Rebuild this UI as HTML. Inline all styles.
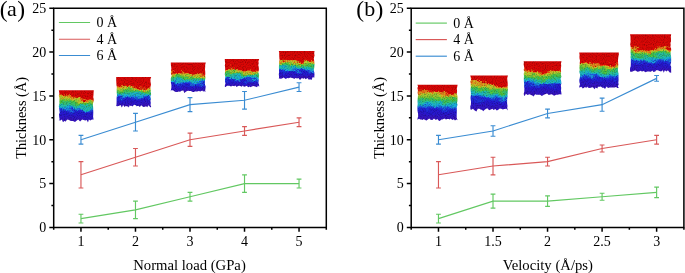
<!DOCTYPE html>
<html><head><meta charset="utf-8"><style>
html,body{margin:0;padding:0;background:#fff;width:685px;height:273px;overflow:hidden}
svg{display:block;will-change:transform}
.t{font-family:"Liberation Serif",serif;font-size:14px;fill:#000}
.a{font-family:"Liberation Serif",serif;font-size:14.7px;fill:#000}
.p{font-family:"Liberation Serif",serif;font-size:22px;fill:#000}
</style></head><body>
<svg width="685" height="273" viewBox="0 0 685 273">
<defs>
<filter id="sp" x="-5%" y="-5%" width="110%" height="110%" color-interpolation-filters="sRGB">
<feTurbulence type="fractalNoise" baseFrequency="0.7" numOctaves="2" seed="5" result="n"/>
<feDisplacementMap in="SourceGraphic" in2="n" scale="3" xChannelSelector="R" yChannelSelector="G" result="d"/>
<feTurbulence type="fractalNoise" baseFrequency="0.9" numOctaves="1" seed="9" result="m"/>
<feColorMatrix in="m" type="matrix" values="0.8 0 0 0 0.55  0.8 0 0 0 0.55  0.8 0 0 0 0.55  0 0 0 0 1" result="g"/>
<feBlend in="d" in2="g" mode="multiply" result="b"/>
<feComposite in="b" in2="d" operator="in"/>
</filter>
</defs>
<clipPath id="c0"><polygon points="58.8,90.3 93.8,90.3 93.6,92.6 93.5,94.9 93.2,97.3 93.8,98.9 93.6,101.7 92.9,103.5 93.0,105.7 93.2,107.9 93.2,109.7 93.3,112.5 93.2,115.1 93.1,116.7 93.5,119.1 93.8,119.6 92.1,119.6 90.2,120.5 88.9,119.5 88.0,122.4 86.7,120.1 85.2,120.5 83.7,120.1 82.1,119.5 80.1,121.4 78.2,119.6 76.5,120.8 75.0,122.0 73.0,121.0 71.8,120.9 70.0,120.7 69.2,119.9 67.3,119.4 65.3,121.7 64.5,120.8 63.0,122.3 61.8,119.5 60.5,120.4 59.0,120.1 58.8,120.7 59.6,119.2 59.2,116.9 59.0,114.4 59.7,112.4 59.3,110.1 59.2,108.6 58.8,106.2 59.4,103.8 59.4,102.2 59.4,100.0 59.4,98.0 58.8,95.4 59.4,93.8"/></clipPath>
<filter id="w0" x="50.8" y="82.6" width="51" height="46.6" filterUnits="userSpaceOnUse" color-interpolation-filters="sRGB"><feTurbulence type="fractalNoise" baseFrequency="0.12 0.25" numOctaves="3" seed="1" result="t"/><feDisplacementMap in="SourceGraphic" in2="t" scale="8" xChannelSelector="B" yChannelSelector="G"/></filter>
<linearGradient id="g0_0" gradientUnits="userSpaceOnUse" x1="0" y1="90.6" x2="0" y2="121.2"><stop offset="0.000" stop-color="#d80606"/><stop offset="0.132" stop-color="#dc0806"/><stop offset="0.177" stop-color="#e87818"/><stop offset="0.240" stop-color="#c8c828"/><stop offset="0.357" stop-color="#48c440"/><stop offset="0.481" stop-color="#20bcb0"/><stop offset="0.559" stop-color="#18a8e0"/><stop offset="0.637" stop-color="#1e3ae0"/><stop offset="0.732" stop-color="#2418d2"/><stop offset="1.000" stop-color="#3812bc"/></linearGradient>
<linearGradient id="g0_1" gradientUnits="userSpaceOnUse" x1="0" y1="90.6" x2="0" y2="121.2"><stop offset="0.000" stop-color="#d80606"/><stop offset="0.135" stop-color="#dc0806"/><stop offset="0.180" stop-color="#e87818"/><stop offset="0.243" stop-color="#c8c828"/><stop offset="0.359" stop-color="#48c440"/><stop offset="0.482" stop-color="#20bcb0"/><stop offset="0.560" stop-color="#18a8e0"/><stop offset="0.638" stop-color="#1e3ae0"/><stop offset="0.732" stop-color="#2418d2"/><stop offset="1.000" stop-color="#3812bc"/></linearGradient>
<linearGradient id="g0_2" gradientUnits="userSpaceOnUse" x1="0" y1="90.6" x2="0" y2="121.2"><stop offset="0.000" stop-color="#d80606"/><stop offset="0.138" stop-color="#dc0806"/><stop offset="0.183" stop-color="#e87818"/><stop offset="0.245" stop-color="#c8c828"/><stop offset="0.361" stop-color="#48c440"/><stop offset="0.483" stop-color="#20bcb0"/><stop offset="0.562" stop-color="#18a8e0"/><stop offset="0.639" stop-color="#1e3ae0"/><stop offset="0.733" stop-color="#2418d2"/><stop offset="1.000" stop-color="#3812bc"/></linearGradient>
<linearGradient id="g0_3" gradientUnits="userSpaceOnUse" x1="0" y1="90.6" x2="0" y2="121.2"><stop offset="0.000" stop-color="#d80606"/><stop offset="0.145" stop-color="#dc0806"/><stop offset="0.190" stop-color="#e87818"/><stop offset="0.252" stop-color="#c8c828"/><stop offset="0.366" stop-color="#48c440"/><stop offset="0.487" stop-color="#20bcb0"/><stop offset="0.564" stop-color="#18a8e0"/><stop offset="0.641" stop-color="#1e3ae0"/><stop offset="0.734" stop-color="#2418d2"/><stop offset="1.000" stop-color="#3812bc"/></linearGradient>
<linearGradient id="g0_4" gradientUnits="userSpaceOnUse" x1="0" y1="90.6" x2="0" y2="121.2"><stop offset="0.000" stop-color="#d80606"/><stop offset="0.167" stop-color="#dc0806"/><stop offset="0.210" stop-color="#e87818"/><stop offset="0.269" stop-color="#c8c828"/><stop offset="0.379" stop-color="#48c440"/><stop offset="0.497" stop-color="#20bcb0"/><stop offset="0.572" stop-color="#18a8e0"/><stop offset="0.647" stop-color="#1e3ae0"/><stop offset="0.738" stop-color="#2418d2"/><stop offset="1.000" stop-color="#3812bc"/></linearGradient>
<linearGradient id="g0_5" gradientUnits="userSpaceOnUse" x1="0" y1="90.6" x2="0" y2="121.2"><stop offset="0.000" stop-color="#d80606"/><stop offset="0.188" stop-color="#dc0806"/><stop offset="0.229" stop-color="#e87818"/><stop offset="0.287" stop-color="#c8c828"/><stop offset="0.393" stop-color="#48c440"/><stop offset="0.507" stop-color="#20bcb0"/><stop offset="0.580" stop-color="#18a8e0"/><stop offset="0.653" stop-color="#1e3ae0"/><stop offset="0.742" stop-color="#2418d2"/><stop offset="1.000" stop-color="#3812bc"/></linearGradient>
<linearGradient id="g0_6" gradientUnits="userSpaceOnUse" x1="0" y1="90.6" x2="0" y2="121.2"><stop offset="0.000" stop-color="#d80606"/><stop offset="0.210" stop-color="#dc0806"/><stop offset="0.249" stop-color="#e87818"/><stop offset="0.304" stop-color="#c8c828"/><stop offset="0.407" stop-color="#48c440"/><stop offset="0.517" stop-color="#20bcb0"/><stop offset="0.588" stop-color="#18a8e0"/><stop offset="0.659" stop-color="#1e3ae0"/><stop offset="0.746" stop-color="#2418d2"/><stop offset="1.000" stop-color="#3812bc"/></linearGradient>
<linearGradient id="g0_7" gradientUnits="userSpaceOnUse" x1="0" y1="90.6" x2="0" y2="121.2"><stop offset="0.000" stop-color="#d80606"/><stop offset="0.238" stop-color="#dc0806"/><stop offset="0.275" stop-color="#e87818"/><stop offset="0.327" stop-color="#c8c828"/><stop offset="0.424" stop-color="#48c440"/><stop offset="0.530" stop-color="#20bcb0"/><stop offset="0.599" stop-color="#18a8e0"/><stop offset="0.667" stop-color="#1e3ae0"/><stop offset="0.752" stop-color="#2418d2"/><stop offset="1.000" stop-color="#3812bc"/></linearGradient>
<linearGradient id="g0_8" gradientUnits="userSpaceOnUse" x1="0" y1="90.6" x2="0" y2="121.2"><stop offset="0.000" stop-color="#d80606"/><stop offset="0.265" stop-color="#dc0806"/><stop offset="0.300" stop-color="#e87818"/><stop offset="0.350" stop-color="#c8c828"/><stop offset="0.442" stop-color="#48c440"/><stop offset="0.543" stop-color="#20bcb0"/><stop offset="0.609" stop-color="#18a8e0"/><stop offset="0.675" stop-color="#1e3ae0"/><stop offset="0.757" stop-color="#2418d2"/><stop offset="1.000" stop-color="#3812bc"/></linearGradient>
<linearGradient id="g0_9" gradientUnits="userSpaceOnUse" x1="0" y1="90.6" x2="0" y2="121.2"><stop offset="0.000" stop-color="#d80606"/><stop offset="0.293" stop-color="#dc0806"/><stop offset="0.326" stop-color="#e87818"/><stop offset="0.372" stop-color="#c8c828"/><stop offset="0.460" stop-color="#48c440"/><stop offset="0.556" stop-color="#20bcb0"/><stop offset="0.619" stop-color="#18a8e0"/><stop offset="0.683" stop-color="#1e3ae0"/><stop offset="0.762" stop-color="#2418d2"/><stop offset="1.000" stop-color="#3812bc"/></linearGradient>
<linearGradient id="g0_10" gradientUnits="userSpaceOnUse" x1="0" y1="90.6" x2="0" y2="121.2"><stop offset="0.000" stop-color="#d80606"/><stop offset="0.286" stop-color="#dc0806"/><stop offset="0.320" stop-color="#e87818"/><stop offset="0.367" stop-color="#c8c828"/><stop offset="0.455" stop-color="#48c440"/><stop offset="0.553" stop-color="#20bcb0"/><stop offset="0.616" stop-color="#18a8e0"/><stop offset="0.681" stop-color="#1e3ae0"/><stop offset="0.761" stop-color="#2418d2"/><stop offset="1.000" stop-color="#3812bc"/></linearGradient>
<linearGradient id="g0_11" gradientUnits="userSpaceOnUse" x1="0" y1="90.6" x2="0" y2="121.2"><stop offset="0.000" stop-color="#d80606"/><stop offset="0.268" stop-color="#dc0806"/><stop offset="0.302" stop-color="#e87818"/><stop offset="0.352" stop-color="#c8c828"/><stop offset="0.444" stop-color="#48c440"/><stop offset="0.544" stop-color="#20bcb0"/><stop offset="0.610" stop-color="#18a8e0"/><stop offset="0.676" stop-color="#1e3ae0"/><stop offset="0.757" stop-color="#2418d2"/><stop offset="1.000" stop-color="#3812bc"/></linearGradient>
<linearGradient id="g0_12" gradientUnits="userSpaceOnUse" x1="0" y1="90.6" x2="0" y2="121.2"><stop offset="0.000" stop-color="#d80606"/><stop offset="0.249" stop-color="#dc0806"/><stop offset="0.285" stop-color="#e87818"/><stop offset="0.336" stop-color="#c8c828"/><stop offset="0.432" stop-color="#48c440"/><stop offset="0.536" stop-color="#20bcb0"/><stop offset="0.603" stop-color="#18a8e0"/><stop offset="0.671" stop-color="#1e3ae0"/><stop offset="0.754" stop-color="#2418d2"/><stop offset="1.000" stop-color="#3812bc"/></linearGradient>
<g clip-path="url(#c0)"><g filter="url(#sp)"><g filter="url(#w0)" shape-rendering="crispEdges"><rect x="50.80" y="82.6" width="11.69" height="46.6" fill="url(#g0_0)"/><rect x="61.49" y="82.6" width="3.69" height="46.6" fill="url(#g0_1)"/><rect x="64.18" y="82.6" width="3.69" height="46.6" fill="url(#g0_2)"/><rect x="66.88" y="82.6" width="3.69" height="46.6" fill="url(#g0_3)"/><rect x="69.57" y="82.6" width="3.69" height="46.6" fill="url(#g0_4)"/><rect x="72.26" y="82.6" width="3.69" height="46.6" fill="url(#g0_5)"/><rect x="74.95" y="82.6" width="3.69" height="46.6" fill="url(#g0_6)"/><rect x="77.65" y="82.6" width="3.69" height="46.6" fill="url(#g0_7)"/><rect x="80.34" y="82.6" width="3.69" height="46.6" fill="url(#g0_8)"/><rect x="83.03" y="82.6" width="3.69" height="46.6" fill="url(#g0_9)"/><rect x="85.72" y="82.6" width="3.69" height="46.6" fill="url(#g0_10)"/><rect x="88.42" y="82.6" width="3.69" height="46.6" fill="url(#g0_11)"/><rect x="91.11" y="82.6" width="10.69" height="46.6" fill="url(#g0_12)"/></g></g></g>
<clipPath id="c1"><polygon points="116.2,77.0 151.2,77.0 150.4,79.3 150.5,81.8 151.0,84.7 150.4,87.1 150.7,89.9 150.8,91.7 151.1,94.7 150.3,96.7 151.0,98.8 150.4,100.8 150.8,102.8 150.5,105.3 151.2,106.4 150.4,107.5 149.2,105.9 148.4,105.2 147.3,107.2 146.2,106.3 144.6,106.8 143.2,107.1 141.3,105.3 139.8,107.0 138.4,105.7 136.6,106.3 135.8,105.3 134.1,104.8 132.4,106.4 131.5,105.7 130.6,105.9 129.7,105.3 128.8,107.5 128.0,106.5 126.6,106.3 125.6,106.0 124.6,106.9 123.1,104.9 121.8,107.6 120.5,105.0 119.3,105.8 117.7,106.3 116.2,106.0 116.5,104.5 116.6,101.5 116.6,98.8 116.7,97.1 117.0,95.3 116.7,92.8 116.7,89.9 116.8,86.9 116.5,85.2 116.3,82.4 116.2,79.4"/></clipPath>
<filter id="w1" x="108.2" y="69.3" width="51" height="45.2" filterUnits="userSpaceOnUse" color-interpolation-filters="sRGB"><feTurbulence type="fractalNoise" baseFrequency="0.12 0.25" numOctaves="3" seed="4" result="t"/><feDisplacementMap in="SourceGraphic" in2="t" scale="8" xChannelSelector="B" yChannelSelector="G"/></filter>
<linearGradient id="g1_0" gradientUnits="userSpaceOnUse" x1="0" y1="77.3" x2="0" y2="106.5"><stop offset="0.000" stop-color="#d80606"/><stop offset="0.312" stop-color="#dc0806"/><stop offset="0.347" stop-color="#e87818"/><stop offset="0.395" stop-color="#c8c828"/><stop offset="0.484" stop-color="#48c440"/><stop offset="0.580" stop-color="#20bcb0"/><stop offset="0.642" stop-color="#18a8e0"/><stop offset="0.704" stop-color="#1e3ae0"/><stop offset="0.780" stop-color="#2418d2"/><stop offset="1.000" stop-color="#3812bc"/></linearGradient>
<linearGradient id="g1_1" gradientUnits="userSpaceOnUse" x1="0" y1="77.3" x2="0" y2="106.5"><stop offset="0.000" stop-color="#d80606"/><stop offset="0.297" stop-color="#dc0806"/><stop offset="0.332" stop-color="#e87818"/><stop offset="0.382" stop-color="#c8c828"/><stop offset="0.474" stop-color="#48c440"/><stop offset="0.573" stop-color="#20bcb0"/><stop offset="0.636" stop-color="#18a8e0"/><stop offset="0.700" stop-color="#1e3ae0"/><stop offset="0.777" stop-color="#2418d2"/><stop offset="1.000" stop-color="#3812bc"/></linearGradient>
<linearGradient id="g1_2" gradientUnits="userSpaceOnUse" x1="0" y1="77.3" x2="0" y2="106.5"><stop offset="0.000" stop-color="#d80606"/><stop offset="0.282" stop-color="#dc0806"/><stop offset="0.318" stop-color="#e87818"/><stop offset="0.370" stop-color="#c8c828"/><stop offset="0.464" stop-color="#48c440"/><stop offset="0.566" stop-color="#20bcb0"/><stop offset="0.631" stop-color="#18a8e0"/><stop offset="0.695" stop-color="#1e3ae0"/><stop offset="0.774" stop-color="#2418d2"/><stop offset="1.000" stop-color="#3812bc"/></linearGradient>
<linearGradient id="g1_3" gradientUnits="userSpaceOnUse" x1="0" y1="77.3" x2="0" y2="106.5"><stop offset="0.000" stop-color="#d80606"/><stop offset="0.272" stop-color="#dc0806"/><stop offset="0.310" stop-color="#e87818"/><stop offset="0.362" stop-color="#c8c828"/><stop offset="0.458" stop-color="#48c440"/><stop offset="0.561" stop-color="#20bcb0"/><stop offset="0.627" stop-color="#18a8e0"/><stop offset="0.693" stop-color="#1e3ae0"/><stop offset="0.772" stop-color="#2418d2"/><stop offset="1.000" stop-color="#3812bc"/></linearGradient>
<linearGradient id="g1_4" gradientUnits="userSpaceOnUse" x1="0" y1="77.3" x2="0" y2="106.5"><stop offset="0.000" stop-color="#d80606"/><stop offset="0.282" stop-color="#dc0806"/><stop offset="0.318" stop-color="#e87818"/><stop offset="0.370" stop-color="#c8c828"/><stop offset="0.464" stop-color="#48c440"/><stop offset="0.566" stop-color="#20bcb0"/><stop offset="0.631" stop-color="#18a8e0"/><stop offset="0.695" stop-color="#1e3ae0"/><stop offset="0.774" stop-color="#2418d2"/><stop offset="1.000" stop-color="#3812bc"/></linearGradient>
<linearGradient id="g1_5" gradientUnits="userSpaceOnUse" x1="0" y1="77.3" x2="0" y2="106.5"><stop offset="0.000" stop-color="#d80606"/><stop offset="0.291" stop-color="#dc0806"/><stop offset="0.327" stop-color="#e87818"/><stop offset="0.377" stop-color="#c8c828"/><stop offset="0.470" stop-color="#48c440"/><stop offset="0.570" stop-color="#20bcb0"/><stop offset="0.634" stop-color="#18a8e0"/><stop offset="0.698" stop-color="#1e3ae0"/><stop offset="0.776" stop-color="#2418d2"/><stop offset="1.000" stop-color="#3812bc"/></linearGradient>
<linearGradient id="g1_6" gradientUnits="userSpaceOnUse" x1="0" y1="77.3" x2="0" y2="106.5"><stop offset="0.000" stop-color="#d80606"/><stop offset="0.300" stop-color="#dc0806"/><stop offset="0.335" stop-color="#e87818"/><stop offset="0.385" stop-color="#c8c828"/><stop offset="0.476" stop-color="#48c440"/><stop offset="0.574" stop-color="#20bcb0"/><stop offset="0.637" stop-color="#18a8e0"/><stop offset="0.700" stop-color="#1e3ae0"/><stop offset="0.777" stop-color="#2418d2"/><stop offset="1.000" stop-color="#3812bc"/></linearGradient>
<linearGradient id="g1_7" gradientUnits="userSpaceOnUse" x1="0" y1="77.3" x2="0" y2="106.5"><stop offset="0.000" stop-color="#d80606"/><stop offset="0.312" stop-color="#dc0806"/><stop offset="0.347" stop-color="#e87818"/><stop offset="0.395" stop-color="#c8c828"/><stop offset="0.484" stop-color="#48c440"/><stop offset="0.580" stop-color="#20bcb0"/><stop offset="0.642" stop-color="#18a8e0"/><stop offset="0.704" stop-color="#1e3ae0"/><stop offset="0.780" stop-color="#2418d2"/><stop offset="1.000" stop-color="#3812bc"/></linearGradient>
<linearGradient id="g1_8" gradientUnits="userSpaceOnUse" x1="0" y1="77.3" x2="0" y2="106.5"><stop offset="0.000" stop-color="#d80606"/><stop offset="0.325" stop-color="#dc0806"/><stop offset="0.358" stop-color="#e87818"/><stop offset="0.405" stop-color="#c8c828"/><stop offset="0.492" stop-color="#48c440"/><stop offset="0.586" stop-color="#20bcb0"/><stop offset="0.647" stop-color="#18a8e0"/><stop offset="0.707" stop-color="#1e3ae0"/><stop offset="0.782" stop-color="#2418d2"/><stop offset="1.000" stop-color="#3812bc"/></linearGradient>
<linearGradient id="g1_9" gradientUnits="userSpaceOnUse" x1="0" y1="77.3" x2="0" y2="106.5"><stop offset="0.000" stop-color="#d80606"/><stop offset="0.337" stop-color="#dc0806"/><stop offset="0.369" stop-color="#e87818"/><stop offset="0.415" stop-color="#c8c828"/><stop offset="0.500" stop-color="#48c440"/><stop offset="0.592" stop-color="#20bcb0"/><stop offset="0.651" stop-color="#18a8e0"/><stop offset="0.711" stop-color="#1e3ae0"/><stop offset="0.784" stop-color="#2418d2"/><stop offset="1.000" stop-color="#3812bc"/></linearGradient>
<linearGradient id="g1_10" gradientUnits="userSpaceOnUse" x1="0" y1="77.3" x2="0" y2="106.5"><stop offset="0.000" stop-color="#d80606"/><stop offset="0.335" stop-color="#dc0806"/><stop offset="0.368" stop-color="#e87818"/><stop offset="0.414" stop-color="#c8c828"/><stop offset="0.499" stop-color="#48c440"/><stop offset="0.591" stop-color="#20bcb0"/><stop offset="0.651" stop-color="#18a8e0"/><stop offset="0.710" stop-color="#1e3ae0"/><stop offset="0.784" stop-color="#2418d2"/><stop offset="1.000" stop-color="#3812bc"/></linearGradient>
<linearGradient id="g1_11" gradientUnits="userSpaceOnUse" x1="0" y1="77.3" x2="0" y2="106.5"><stop offset="0.000" stop-color="#d80606"/><stop offset="0.329" stop-color="#dc0806"/><stop offset="0.362" stop-color="#e87818"/><stop offset="0.409" stop-color="#c8c828"/><stop offset="0.495" stop-color="#48c440"/><stop offset="0.588" stop-color="#20bcb0"/><stop offset="0.648" stop-color="#18a8e0"/><stop offset="0.709" stop-color="#1e3ae0"/><stop offset="0.783" stop-color="#2418d2"/><stop offset="1.000" stop-color="#3812bc"/></linearGradient>
<linearGradient id="g1_12" gradientUnits="userSpaceOnUse" x1="0" y1="77.3" x2="0" y2="106.5"><stop offset="0.000" stop-color="#d80606"/><stop offset="0.323" stop-color="#dc0806"/><stop offset="0.357" stop-color="#e87818"/><stop offset="0.403" stop-color="#c8c828"/><stop offset="0.491" stop-color="#48c440"/><stop offset="0.585" stop-color="#20bcb0"/><stop offset="0.646" stop-color="#18a8e0"/><stop offset="0.707" stop-color="#1e3ae0"/><stop offset="0.782" stop-color="#2418d2"/><stop offset="1.000" stop-color="#3812bc"/></linearGradient>
<g clip-path="url(#c1)"><g filter="url(#sp)"><g filter="url(#w1)" shape-rendering="crispEdges"><rect x="108.20" y="69.3" width="11.69" height="45.2" fill="url(#g1_0)"/><rect x="118.89" y="69.3" width="3.69" height="45.2" fill="url(#g1_1)"/><rect x="121.58" y="69.3" width="3.69" height="45.2" fill="url(#g1_2)"/><rect x="124.28" y="69.3" width="3.69" height="45.2" fill="url(#g1_3)"/><rect x="126.97" y="69.3" width="3.69" height="45.2" fill="url(#g1_4)"/><rect x="129.66" y="69.3" width="3.69" height="45.2" fill="url(#g1_5)"/><rect x="132.35" y="69.3" width="3.69" height="45.2" fill="url(#g1_6)"/><rect x="135.05" y="69.3" width="3.69" height="45.2" fill="url(#g1_7)"/><rect x="137.74" y="69.3" width="3.69" height="45.2" fill="url(#g1_8)"/><rect x="140.43" y="69.3" width="3.69" height="45.2" fill="url(#g1_9)"/><rect x="143.12" y="69.3" width="3.69" height="45.2" fill="url(#g1_10)"/><rect x="145.82" y="69.3" width="3.69" height="45.2" fill="url(#g1_11)"/><rect x="148.51" y="69.3" width="10.69" height="45.2" fill="url(#g1_12)"/></g></g></g>
<clipPath id="c2"><polygon points="170.8,62.5 205.8,62.5 205.2,64.8 205.2,66.4 205.0,69.2 205.2,71.5 205.3,73.5 205.2,75.2 205.5,77.6 205.1,79.7 204.9,81.8 205.0,84.8 205.7,86.4 205.5,88.3 205.1,90.9 205.8,90.8 205.0,92.0 204.1,90.8 203.3,91.8 202.3,90.5 200.4,91.6 198.8,91.1 197.2,91.5 195.8,91.6 195.0,91.2 194.2,92.0 193.0,91.9 192.1,91.7 191.0,91.0 189.5,91.0 188.4,90.7 187.0,91.1 185.5,91.9 184.3,92.9 183.4,90.5 181.5,90.7 180.1,91.7 178.5,91.6 177.3,92.0 175.9,91.9 174.6,91.4 173.0,90.3 171.2,90.3 170.8,91.5 170.9,90.0 171.4,87.8 171.4,84.9 170.9,82.5 170.8,80.0 170.8,78.3 171.6,75.7 170.9,73.3 171.0,70.7 171.4,68.2 170.9,65.2"/></clipPath>
<filter id="w2" x="162.8" y="54.8" width="51" height="45.2" filterUnits="userSpaceOnUse" color-interpolation-filters="sRGB"><feTurbulence type="fractalNoise" baseFrequency="0.12 0.25" numOctaves="3" seed="7" result="t"/><feDisplacementMap in="SourceGraphic" in2="t" scale="8" xChannelSelector="B" yChannelSelector="G"/></filter>
<linearGradient id="g2_0" gradientUnits="userSpaceOnUse" x1="0" y1="62.8" x2="0" y2="92.0"><stop offset="0.000" stop-color="#d80606"/><stop offset="0.317" stop-color="#dc0806"/><stop offset="0.352" stop-color="#e87818"/><stop offset="0.401" stop-color="#c8c828"/><stop offset="0.491" stop-color="#48c440"/><stop offset="0.587" stop-color="#20bcb0"/><stop offset="0.649" stop-color="#18a8e0"/><stop offset="0.710" stop-color="#1e3ae0"/><stop offset="0.785" stop-color="#2418d2"/><stop offset="1.000" stop-color="#3812bc"/></linearGradient>
<linearGradient id="g2_1" gradientUnits="userSpaceOnUse" x1="0" y1="62.8" x2="0" y2="92.0"><stop offset="0.000" stop-color="#d80606"/><stop offset="0.311" stop-color="#dc0806"/><stop offset="0.346" stop-color="#e87818"/><stop offset="0.396" stop-color="#c8c828"/><stop offset="0.487" stop-color="#48c440"/><stop offset="0.584" stop-color="#20bcb0"/><stop offset="0.647" stop-color="#18a8e0"/><stop offset="0.709" stop-color="#1e3ae0"/><stop offset="0.784" stop-color="#2418d2"/><stop offset="1.000" stop-color="#3812bc"/></linearGradient>
<linearGradient id="g2_2" gradientUnits="userSpaceOnUse" x1="0" y1="62.8" x2="0" y2="92.0"><stop offset="0.000" stop-color="#d80606"/><stop offset="0.305" stop-color="#dc0806"/><stop offset="0.341" stop-color="#e87818"/><stop offset="0.391" stop-color="#c8c828"/><stop offset="0.483" stop-color="#48c440"/><stop offset="0.581" stop-color="#20bcb0"/><stop offset="0.644" stop-color="#18a8e0"/><stop offset="0.707" stop-color="#1e3ae0"/><stop offset="0.783" stop-color="#2418d2"/><stop offset="1.000" stop-color="#3812bc"/></linearGradient>
<linearGradient id="g2_3" gradientUnits="userSpaceOnUse" x1="0" y1="62.8" x2="0" y2="92.0"><stop offset="0.000" stop-color="#d80606"/><stop offset="0.305" stop-color="#dc0806"/><stop offset="0.341" stop-color="#e87818"/><stop offset="0.391" stop-color="#c8c828"/><stop offset="0.483" stop-color="#48c440"/><stop offset="0.582" stop-color="#20bcb0"/><stop offset="0.645" stop-color="#18a8e0"/><stop offset="0.707" stop-color="#1e3ae0"/><stop offset="0.783" stop-color="#2418d2"/><stop offset="1.000" stop-color="#3812bc"/></linearGradient>
<linearGradient id="g2_4" gradientUnits="userSpaceOnUse" x1="0" y1="62.8" x2="0" y2="92.0"><stop offset="0.000" stop-color="#d80606"/><stop offset="0.327" stop-color="#dc0806"/><stop offset="0.361" stop-color="#e87818"/><stop offset="0.409" stop-color="#c8c828"/><stop offset="0.497" stop-color="#48c440"/><stop offset="0.592" stop-color="#20bcb0"/><stop offset="0.653" stop-color="#18a8e0"/><stop offset="0.713" stop-color="#1e3ae0"/><stop offset="0.787" stop-color="#2418d2"/><stop offset="1.000" stop-color="#3812bc"/></linearGradient>
<linearGradient id="g2_5" gradientUnits="userSpaceOnUse" x1="0" y1="62.8" x2="0" y2="92.0"><stop offset="0.000" stop-color="#d80606"/><stop offset="0.348" stop-color="#dc0806"/><stop offset="0.381" stop-color="#e87818"/><stop offset="0.426" stop-color="#c8c828"/><stop offset="0.511" stop-color="#48c440"/><stop offset="0.602" stop-color="#20bcb0"/><stop offset="0.661" stop-color="#18a8e0"/><stop offset="0.719" stop-color="#1e3ae0"/><stop offset="0.791" stop-color="#2418d2"/><stop offset="1.000" stop-color="#3812bc"/></linearGradient>
<linearGradient id="g2_6" gradientUnits="userSpaceOnUse" x1="0" y1="62.8" x2="0" y2="92.0"><stop offset="0.000" stop-color="#d80606"/><stop offset="0.370" stop-color="#dc0806"/><stop offset="0.401" stop-color="#e87818"/><stop offset="0.444" stop-color="#c8c828"/><stop offset="0.525" stop-color="#48c440"/><stop offset="0.612" stop-color="#20bcb0"/><stop offset="0.669" stop-color="#18a8e0"/><stop offset="0.725" stop-color="#1e3ae0"/><stop offset="0.795" stop-color="#2418d2"/><stop offset="1.000" stop-color="#3812bc"/></linearGradient>
<linearGradient id="g2_7" gradientUnits="userSpaceOnUse" x1="0" y1="62.8" x2="0" y2="92.0"><stop offset="0.000" stop-color="#d80606"/><stop offset="0.376" stop-color="#dc0806"/><stop offset="0.406" stop-color="#e87818"/><stop offset="0.449" stop-color="#c8c828"/><stop offset="0.528" stop-color="#48c440"/><stop offset="0.615" stop-color="#20bcb0"/><stop offset="0.671" stop-color="#18a8e0"/><stop offset="0.727" stop-color="#1e3ae0"/><stop offset="0.796" stop-color="#2418d2"/><stop offset="1.000" stop-color="#3812bc"/></linearGradient>
<linearGradient id="g2_8" gradientUnits="userSpaceOnUse" x1="0" y1="62.8" x2="0" y2="92.0"><stop offset="0.000" stop-color="#d80606"/><stop offset="0.382" stop-color="#dc0806"/><stop offset="0.412" stop-color="#e87818"/><stop offset="0.454" stop-color="#c8c828"/><stop offset="0.532" stop-color="#48c440"/><stop offset="0.618" stop-color="#20bcb0"/><stop offset="0.673" stop-color="#18a8e0"/><stop offset="0.729" stop-color="#1e3ae0"/><stop offset="0.797" stop-color="#2418d2"/><stop offset="1.000" stop-color="#3812bc"/></linearGradient>
<linearGradient id="g2_9" gradientUnits="userSpaceOnUse" x1="0" y1="62.8" x2="0" y2="92.0"><stop offset="0.000" stop-color="#d80606"/><stop offset="0.388" stop-color="#dc0806"/><stop offset="0.418" stop-color="#e87818"/><stop offset="0.459" stop-color="#c8c828"/><stop offset="0.536" stop-color="#48c440"/><stop offset="0.621" stop-color="#20bcb0"/><stop offset="0.675" stop-color="#18a8e0"/><stop offset="0.730" stop-color="#1e3ae0"/><stop offset="0.799" stop-color="#2418d2"/><stop offset="1.000" stop-color="#3812bc"/></linearGradient>
<linearGradient id="g2_10" gradientUnits="userSpaceOnUse" x1="0" y1="62.8" x2="0" y2="92.0"><stop offset="0.000" stop-color="#d80606"/><stop offset="0.378" stop-color="#dc0806"/><stop offset="0.409" stop-color="#e87818"/><stop offset="0.451" stop-color="#c8c828"/><stop offset="0.530" stop-color="#48c440"/><stop offset="0.616" stop-color="#20bcb0"/><stop offset="0.672" stop-color="#18a8e0"/><stop offset="0.728" stop-color="#1e3ae0"/><stop offset="0.797" stop-color="#2418d2"/><stop offset="1.000" stop-color="#3812bc"/></linearGradient>
<linearGradient id="g2_11" gradientUnits="userSpaceOnUse" x1="0" y1="62.8" x2="0" y2="92.0"><stop offset="0.000" stop-color="#d80606"/><stop offset="0.363" stop-color="#dc0806"/><stop offset="0.394" stop-color="#e87818"/><stop offset="0.438" stop-color="#c8c828"/><stop offset="0.520" stop-color="#48c440"/><stop offset="0.609" stop-color="#20bcb0"/><stop offset="0.666" stop-color="#18a8e0"/><stop offset="0.723" stop-color="#1e3ae0"/><stop offset="0.794" stop-color="#2418d2"/><stop offset="1.000" stop-color="#3812bc"/></linearGradient>
<linearGradient id="g2_12" gradientUnits="userSpaceOnUse" x1="0" y1="62.8" x2="0" y2="92.0"><stop offset="0.000" stop-color="#d80606"/><stop offset="0.348" stop-color="#dc0806"/><stop offset="0.380" stop-color="#e87818"/><stop offset="0.426" stop-color="#c8c828"/><stop offset="0.510" stop-color="#48c440"/><stop offset="0.602" stop-color="#20bcb0"/><stop offset="0.660" stop-color="#18a8e0"/><stop offset="0.719" stop-color="#1e3ae0"/><stop offset="0.791" stop-color="#2418d2"/><stop offset="1.000" stop-color="#3812bc"/></linearGradient>
<g clip-path="url(#c2)"><g filter="url(#sp)"><g filter="url(#w2)" shape-rendering="crispEdges"><rect x="162.80" y="54.8" width="11.69" height="45.2" fill="url(#g2_0)"/><rect x="173.49" y="54.8" width="3.69" height="45.2" fill="url(#g2_1)"/><rect x="176.18" y="54.8" width="3.69" height="45.2" fill="url(#g2_2)"/><rect x="178.88" y="54.8" width="3.69" height="45.2" fill="url(#g2_3)"/><rect x="181.57" y="54.8" width="3.69" height="45.2" fill="url(#g2_4)"/><rect x="184.26" y="54.8" width="3.69" height="45.2" fill="url(#g2_5)"/><rect x="186.95" y="54.8" width="3.69" height="45.2" fill="url(#g2_6)"/><rect x="189.65" y="54.8" width="3.69" height="45.2" fill="url(#g2_7)"/><rect x="192.34" y="54.8" width="3.69" height="45.2" fill="url(#g2_8)"/><rect x="195.03" y="54.8" width="3.69" height="45.2" fill="url(#g2_9)"/><rect x="197.72" y="54.8" width="3.69" height="45.2" fill="url(#g2_10)"/><rect x="200.42" y="54.8" width="3.69" height="45.2" fill="url(#g2_11)"/><rect x="203.11" y="54.8" width="10.69" height="45.2" fill="url(#g2_12)"/></g></g></g>
<clipPath id="c3"><polygon points="224.8,59.1 259.2,59.1 258.4,61.4 258.7,63.1 258.3,65.3 258.8,67.4 258.9,69.8 258.4,72.6 259.1,75.2 258.7,78.2 258.7,80.6 258.4,82.9 259.1,84.8 259.2,86.7 257.9,85.6 257.1,87.2 255.2,86.6 253.2,85.9 251.7,86.6 250.9,87.2 249.6,86.4 248.4,87.2 246.5,85.7 245.3,86.4 243.8,86.8 242.9,85.5 241.6,86.7 239.9,85.8 238.0,86.1 236.7,87.0 235.3,85.6 234.4,86.2 232.6,85.7 231.0,86.4 229.3,85.8 227.3,85.7 226.4,86.2 225.5,86.9 224.8,86.7 224.9,85.2 225.5,83.4 225.0,81.4 225.0,78.7 225.3,77.1 224.8,74.5 225.0,72.0 225.2,69.2 225.1,67.2 224.8,65.6 225.2,63.4 224.9,61.6"/></clipPath>
<filter id="w3" x="216.8" y="51.4" width="50.4" height="43.8" filterUnits="userSpaceOnUse" color-interpolation-filters="sRGB"><feTurbulence type="fractalNoise" baseFrequency="0.12 0.25" numOctaves="3" seed="10" result="t"/><feDisplacementMap in="SourceGraphic" in2="t" scale="8" xChannelSelector="B" yChannelSelector="G"/></filter>
<linearGradient id="g3_0" gradientUnits="userSpaceOnUse" x1="0" y1="59.4" x2="0" y2="87.2"><stop offset="0.000" stop-color="#d80606"/><stop offset="0.368" stop-color="#dc0806"/><stop offset="0.399" stop-color="#e87818"/><stop offset="0.443" stop-color="#c8c828"/><stop offset="0.526" stop-color="#48c440"/><stop offset="0.614" stop-color="#20bcb0"/><stop offset="0.671" stop-color="#18a8e0"/><stop offset="0.728" stop-color="#1e3ae0"/><stop offset="0.797" stop-color="#2418d2"/><stop offset="1.000" stop-color="#3812bc"/></linearGradient>
<linearGradient id="g3_1" gradientUnits="userSpaceOnUse" x1="0" y1="59.4" x2="0" y2="87.2"><stop offset="0.000" stop-color="#d80606"/><stop offset="0.343" stop-color="#dc0806"/><stop offset="0.377" stop-color="#e87818"/><stop offset="0.423" stop-color="#c8c828"/><stop offset="0.510" stop-color="#48c440"/><stop offset="0.603" stop-color="#20bcb0"/><stop offset="0.662" stop-color="#18a8e0"/><stop offset="0.721" stop-color="#1e3ae0"/><stop offset="0.793" stop-color="#2418d2"/><stop offset="1.000" stop-color="#3812bc"/></linearGradient>
<linearGradient id="g3_2" gradientUnits="userSpaceOnUse" x1="0" y1="59.4" x2="0" y2="87.2"><stop offset="0.000" stop-color="#d80606"/><stop offset="0.318" stop-color="#dc0806"/><stop offset="0.354" stop-color="#e87818"/><stop offset="0.403" stop-color="#c8c828"/><stop offset="0.494" stop-color="#48c440"/><stop offset="0.591" stop-color="#20bcb0"/><stop offset="0.653" stop-color="#18a8e0"/><stop offset="0.714" stop-color="#1e3ae0"/><stop offset="0.788" stop-color="#2418d2"/><stop offset="1.000" stop-color="#3812bc"/></linearGradient>
<linearGradient id="g3_3" gradientUnits="userSpaceOnUse" x1="0" y1="59.4" x2="0" y2="87.2"><stop offset="0.000" stop-color="#d80606"/><stop offset="0.305" stop-color="#dc0806"/><stop offset="0.342" stop-color="#e87818"/><stop offset="0.393" stop-color="#c8c828"/><stop offset="0.486" stop-color="#48c440"/><stop offset="0.585" stop-color="#20bcb0"/><stop offset="0.648" stop-color="#18a8e0"/><stop offset="0.710" stop-color="#1e3ae0"/><stop offset="0.786" stop-color="#2418d2"/><stop offset="1.000" stop-color="#3812bc"/></linearGradient>
<linearGradient id="g3_4" gradientUnits="userSpaceOnUse" x1="0" y1="59.4" x2="0" y2="87.2"><stop offset="0.000" stop-color="#d80606"/><stop offset="0.327" stop-color="#dc0806"/><stop offset="0.362" stop-color="#e87818"/><stop offset="0.410" stop-color="#c8c828"/><stop offset="0.500" stop-color="#48c440"/><stop offset="0.595" stop-color="#20bcb0"/><stop offset="0.656" stop-color="#18a8e0"/><stop offset="0.716" stop-color="#1e3ae0"/><stop offset="0.790" stop-color="#2418d2"/><stop offset="1.000" stop-color="#3812bc"/></linearGradient>
<linearGradient id="g3_5" gradientUnits="userSpaceOnUse" x1="0" y1="59.4" x2="0" y2="87.2"><stop offset="0.000" stop-color="#d80606"/><stop offset="0.348" stop-color="#dc0806"/><stop offset="0.382" stop-color="#e87818"/><stop offset="0.428" stop-color="#c8c828"/><stop offset="0.513" stop-color="#48c440"/><stop offset="0.605" stop-color="#20bcb0"/><stop offset="0.664" stop-color="#18a8e0"/><stop offset="0.722" stop-color="#1e3ae0"/><stop offset="0.794" stop-color="#2418d2"/><stop offset="1.000" stop-color="#3812bc"/></linearGradient>
<linearGradient id="g3_6" gradientUnits="userSpaceOnUse" x1="0" y1="59.4" x2="0" y2="87.2"><stop offset="0.000" stop-color="#d80606"/><stop offset="0.370" stop-color="#dc0806"/><stop offset="0.401" stop-color="#e87818"/><stop offset="0.445" stop-color="#c8c828"/><stop offset="0.527" stop-color="#48c440"/><stop offset="0.615" stop-color="#20bcb0"/><stop offset="0.672" stop-color="#18a8e0"/><stop offset="0.729" stop-color="#1e3ae0"/><stop offset="0.798" stop-color="#2418d2"/><stop offset="1.000" stop-color="#3812bc"/></linearGradient>
<linearGradient id="g3_7" gradientUnits="userSpaceOnUse" x1="0" y1="59.4" x2="0" y2="87.2"><stop offset="0.000" stop-color="#d80606"/><stop offset="0.373" stop-color="#dc0806"/><stop offset="0.404" stop-color="#e87818"/><stop offset="0.448" stop-color="#c8c828"/><stop offset="0.529" stop-color="#48c440"/><stop offset="0.617" stop-color="#20bcb0"/><stop offset="0.673" stop-color="#18a8e0"/><stop offset="0.729" stop-color="#1e3ae0"/><stop offset="0.798" stop-color="#2418d2"/><stop offset="1.000" stop-color="#3812bc"/></linearGradient>
<linearGradient id="g3_8" gradientUnits="userSpaceOnUse" x1="0" y1="59.4" x2="0" y2="87.2"><stop offset="0.000" stop-color="#d80606"/><stop offset="0.376" stop-color="#dc0806"/><stop offset="0.407" stop-color="#e87818"/><stop offset="0.450" stop-color="#c8c828"/><stop offset="0.531" stop-color="#48c440"/><stop offset="0.618" stop-color="#20bcb0"/><stop offset="0.674" stop-color="#18a8e0"/><stop offset="0.730" stop-color="#1e3ae0"/><stop offset="0.799" stop-color="#2418d2"/><stop offset="1.000" stop-color="#3812bc"/></linearGradient>
<linearGradient id="g3_9" gradientUnits="userSpaceOnUse" x1="0" y1="59.4" x2="0" y2="87.2"><stop offset="0.000" stop-color="#d80606"/><stop offset="0.379" stop-color="#dc0806"/><stop offset="0.410" stop-color="#e87818"/><stop offset="0.453" stop-color="#c8c828"/><stop offset="0.533" stop-color="#48c440"/><stop offset="0.619" stop-color="#20bcb0"/><stop offset="0.675" stop-color="#18a8e0"/><stop offset="0.731" stop-color="#1e3ae0"/><stop offset="0.800" stop-color="#2418d2"/><stop offset="1.000" stop-color="#3812bc"/></linearGradient>
<linearGradient id="g3_10" gradientUnits="userSpaceOnUse" x1="0" y1="59.4" x2="0" y2="87.2"><stop offset="0.000" stop-color="#d80606"/><stop offset="0.385" stop-color="#dc0806"/><stop offset="0.415" stop-color="#e87818"/><stop offset="0.457" stop-color="#c8c828"/><stop offset="0.536" stop-color="#48c440"/><stop offset="0.622" stop-color="#20bcb0"/><stop offset="0.677" stop-color="#18a8e0"/><stop offset="0.733" stop-color="#1e3ae0"/><stop offset="0.801" stop-color="#2418d2"/><stop offset="1.000" stop-color="#3812bc"/></linearGradient>
<linearGradient id="g3_11" gradientUnits="userSpaceOnUse" x1="0" y1="59.4" x2="0" y2="87.2"><stop offset="0.000" stop-color="#d80606"/><stop offset="0.391" stop-color="#dc0806"/><stop offset="0.421" stop-color="#e87818"/><stop offset="0.462" stop-color="#c8c828"/><stop offset="0.540" stop-color="#48c440"/><stop offset="0.625" stop-color="#20bcb0"/><stop offset="0.679" stop-color="#18a8e0"/><stop offset="0.734" stop-color="#1e3ae0"/><stop offset="0.802" stop-color="#2418d2"/><stop offset="1.000" stop-color="#3812bc"/></linearGradient>
<linearGradient id="g3_12" gradientUnits="userSpaceOnUse" x1="0" y1="59.4" x2="0" y2="87.2"><stop offset="0.000" stop-color="#d80606"/><stop offset="0.397" stop-color="#dc0806"/><stop offset="0.426" stop-color="#e87818"/><stop offset="0.467" stop-color="#c8c828"/><stop offset="0.544" stop-color="#48c440"/><stop offset="0.628" stop-color="#20bcb0"/><stop offset="0.682" stop-color="#18a8e0"/><stop offset="0.736" stop-color="#1e3ae0"/><stop offset="0.803" stop-color="#2418d2"/><stop offset="1.000" stop-color="#3812bc"/></linearGradient>
<g clip-path="url(#c3)"><g filter="url(#sp)"><g filter="url(#w3)" shape-rendering="crispEdges"><rect x="216.80" y="51.4" width="11.65" height="43.8" fill="url(#g3_0)"/><rect x="227.45" y="51.4" width="3.65" height="43.8" fill="url(#g3_1)"/><rect x="230.09" y="51.4" width="3.65" height="43.8" fill="url(#g3_2)"/><rect x="232.74" y="51.4" width="3.65" height="43.8" fill="url(#g3_3)"/><rect x="235.38" y="51.4" width="3.65" height="43.8" fill="url(#g3_4)"/><rect x="238.03" y="51.4" width="3.65" height="43.8" fill="url(#g3_5)"/><rect x="240.68" y="51.4" width="3.65" height="43.8" fill="url(#g3_6)"/><rect x="243.32" y="51.4" width="3.65" height="43.8" fill="url(#g3_7)"/><rect x="245.97" y="51.4" width="3.65" height="43.8" fill="url(#g3_8)"/><rect x="248.62" y="51.4" width="3.65" height="43.8" fill="url(#g3_9)"/><rect x="251.26" y="51.4" width="3.65" height="43.8" fill="url(#g3_10)"/><rect x="253.91" y="51.4" width="3.65" height="43.8" fill="url(#g3_11)"/><rect x="256.55" y="51.4" width="10.65" height="43.8" fill="url(#g3_12)"/></g></g></g>
<clipPath id="c4"><polygon points="278.8,50.9 314.5,50.9 314.2,53.2 314.5,55.6 313.8,58.6 314.3,61.6 314.5,63.4 314.5,65.2 314.2,67.7 313.8,70.5 314.3,72.5 314.5,74.5 314.3,77.0 314.5,77.4 312.6,77.2 311.5,80.0 310.1,79.3 308.8,79.7 307.5,78.1 305.7,79.3 304.6,78.0 303.4,78.8 301.9,77.9 300.0,79.9 298.4,78.1 297.2,78.6 295.3,78.1 294.3,79.0 293.2,78.2 292.0,78.0 290.6,77.4 288.6,78.3 287.1,78.1 285.9,79.0 285.1,78.6 283.4,77.4 282.0,78.4 280.8,78.8 279.3,78.4 278.8,78.5 279.1,77.0 278.8,74.2 279.1,72.3 279.0,69.8 278.9,66.8 279.2,64.7 279.0,62.0 279.5,60.3 279.3,57.6 279.2,54.8 279.2,52.6"/></clipPath>
<filter id="w4" x="270.8" y="43.2" width="51.7" height="43.8" filterUnits="userSpaceOnUse" color-interpolation-filters="sRGB"><feTurbulence type="fractalNoise" baseFrequency="0.12 0.25" numOctaves="3" seed="13" result="t"/><feDisplacementMap in="SourceGraphic" in2="t" scale="8" xChannelSelector="B" yChannelSelector="G"/></filter>
<linearGradient id="g4_0" gradientUnits="userSpaceOnUse" x1="0" y1="51.2" x2="0" y2="79.0"><stop offset="0.000" stop-color="#d80606"/><stop offset="0.311" stop-color="#dc0806"/><stop offset="0.346" stop-color="#e87818"/><stop offset="0.395" stop-color="#c8c828"/><stop offset="0.485" stop-color="#48c440"/><stop offset="0.582" stop-color="#20bcb0"/><stop offset="0.644" stop-color="#18a8e0"/><stop offset="0.706" stop-color="#1e3ae0"/><stop offset="0.782" stop-color="#2418d2"/><stop offset="1.000" stop-color="#3812bc"/></linearGradient>
<linearGradient id="g4_1" gradientUnits="userSpaceOnUse" x1="0" y1="51.2" x2="0" y2="79.0"><stop offset="0.000" stop-color="#d80606"/><stop offset="0.294" stop-color="#dc0806"/><stop offset="0.331" stop-color="#e87818"/><stop offset="0.381" stop-color="#c8c828"/><stop offset="0.475" stop-color="#48c440"/><stop offset="0.574" stop-color="#20bcb0"/><stop offset="0.638" stop-color="#18a8e0"/><stop offset="0.702" stop-color="#1e3ae0"/><stop offset="0.779" stop-color="#2418d2"/><stop offset="1.000" stop-color="#3812bc"/></linearGradient>
<linearGradient id="g4_2" gradientUnits="userSpaceOnUse" x1="0" y1="51.2" x2="0" y2="79.0"><stop offset="0.000" stop-color="#d80606"/><stop offset="0.277" stop-color="#dc0806"/><stop offset="0.315" stop-color="#e87818"/><stop offset="0.367" stop-color="#c8c828"/><stop offset="0.464" stop-color="#48c440"/><stop offset="0.566" stop-color="#20bcb0"/><stop offset="0.632" stop-color="#18a8e0"/><stop offset="0.697" stop-color="#1e3ae0"/><stop offset="0.775" stop-color="#2418d2"/><stop offset="1.000" stop-color="#3812bc"/></linearGradient>
<linearGradient id="g4_3" gradientUnits="userSpaceOnUse" x1="0" y1="51.2" x2="0" y2="79.0"><stop offset="0.000" stop-color="#d80606"/><stop offset="0.260" stop-color="#dc0806"/><stop offset="0.299" stop-color="#e87818"/><stop offset="0.353" stop-color="#c8c828"/><stop offset="0.453" stop-color="#48c440"/><stop offset="0.558" stop-color="#20bcb0"/><stop offset="0.625" stop-color="#18a8e0"/><stop offset="0.692" stop-color="#1e3ae0"/><stop offset="0.772" stop-color="#2418d2"/><stop offset="1.000" stop-color="#3812bc"/></linearGradient>
<linearGradient id="g4_4" gradientUnits="userSpaceOnUse" x1="0" y1="51.2" x2="0" y2="79.0"><stop offset="0.000" stop-color="#d80606"/><stop offset="0.300" stop-color="#dc0806"/><stop offset="0.336" stop-color="#e87818"/><stop offset="0.386" stop-color="#c8c828"/><stop offset="0.478" stop-color="#48c440"/><stop offset="0.577" stop-color="#20bcb0"/><stop offset="0.640" stop-color="#18a8e0"/><stop offset="0.703" stop-color="#1e3ae0"/><stop offset="0.780" stop-color="#2418d2"/><stop offset="1.000" stop-color="#3812bc"/></linearGradient>
<linearGradient id="g4_5" gradientUnits="userSpaceOnUse" x1="0" y1="51.2" x2="0" y2="79.0"><stop offset="0.000" stop-color="#d80606"/><stop offset="0.340" stop-color="#dc0806"/><stop offset="0.373" stop-color="#e87818"/><stop offset="0.418" stop-color="#c8c828"/><stop offset="0.504" stop-color="#48c440"/><stop offset="0.596" stop-color="#20bcb0"/><stop offset="0.655" stop-color="#18a8e0"/><stop offset="0.714" stop-color="#1e3ae0"/><stop offset="0.787" stop-color="#2418d2"/><stop offset="1.000" stop-color="#3812bc"/></linearGradient>
<linearGradient id="g4_6" gradientUnits="userSpaceOnUse" x1="0" y1="51.2" x2="0" y2="79.0"><stop offset="0.000" stop-color="#d80606"/><stop offset="0.380" stop-color="#dc0806"/><stop offset="0.410" stop-color="#e87818"/><stop offset="0.451" stop-color="#c8c828"/><stop offset="0.529" stop-color="#48c440"/><stop offset="0.614" stop-color="#20bcb0"/><stop offset="0.670" stop-color="#18a8e0"/><stop offset="0.726" stop-color="#1e3ae0"/><stop offset="0.795" stop-color="#2418d2"/><stop offset="1.000" stop-color="#3812bc"/></linearGradient>
<linearGradient id="g4_7" gradientUnits="userSpaceOnUse" x1="0" y1="51.2" x2="0" y2="79.0"><stop offset="0.000" stop-color="#d80606"/><stop offset="0.389" stop-color="#dc0806"/><stop offset="0.417" stop-color="#e87818"/><stop offset="0.458" stop-color="#c8c828"/><stop offset="0.535" stop-color="#48c440"/><stop offset="0.618" stop-color="#20bcb0"/><stop offset="0.673" stop-color="#18a8e0"/><stop offset="0.728" stop-color="#1e3ae0"/><stop offset="0.796" stop-color="#2418d2"/><stop offset="1.000" stop-color="#3812bc"/></linearGradient>
<linearGradient id="g4_8" gradientUnits="userSpaceOnUse" x1="0" y1="51.2" x2="0" y2="79.0"><stop offset="0.000" stop-color="#d80606"/><stop offset="0.366" stop-color="#dc0806"/><stop offset="0.396" stop-color="#e87818"/><stop offset="0.439" stop-color="#c8c828"/><stop offset="0.520" stop-color="#48c440"/><stop offset="0.608" stop-color="#20bcb0"/><stop offset="0.665" stop-color="#18a8e0"/><stop offset="0.722" stop-color="#1e3ae0"/><stop offset="0.792" stop-color="#2418d2"/><stop offset="1.000" stop-color="#3812bc"/></linearGradient>
<linearGradient id="g4_9" gradientUnits="userSpaceOnUse" x1="0" y1="51.2" x2="0" y2="79.0"><stop offset="0.000" stop-color="#d80606"/><stop offset="0.343" stop-color="#dc0806"/><stop offset="0.375" stop-color="#e87818"/><stop offset="0.421" stop-color="#c8c828"/><stop offset="0.505" stop-color="#48c440"/><stop offset="0.597" stop-color="#20bcb0"/><stop offset="0.656" stop-color="#18a8e0"/><stop offset="0.715" stop-color="#1e3ae0"/><stop offset="0.788" stop-color="#2418d2"/><stop offset="1.000" stop-color="#3812bc"/></linearGradient>
<linearGradient id="g4_10" gradientUnits="userSpaceOnUse" x1="0" y1="51.2" x2="0" y2="79.0"><stop offset="0.000" stop-color="#d80606"/><stop offset="0.320" stop-color="#dc0806"/><stop offset="0.354" stop-color="#e87818"/><stop offset="0.402" stop-color="#c8c828"/><stop offset="0.491" stop-color="#48c440"/><stop offset="0.586" stop-color="#20bcb0"/><stop offset="0.648" stop-color="#18a8e0"/><stop offset="0.709" stop-color="#1e3ae0"/><stop offset="0.783" stop-color="#2418d2"/><stop offset="1.000" stop-color="#3812bc"/></linearGradient>
<linearGradient id="g4_11" gradientUnits="userSpaceOnUse" x1="0" y1="51.2" x2="0" y2="79.0"><stop offset="0.000" stop-color="#d80606"/><stop offset="0.326" stop-color="#dc0806"/><stop offset="0.359" stop-color="#e87818"/><stop offset="0.407" stop-color="#c8c828"/><stop offset="0.495" stop-color="#48c440"/><stop offset="0.589" stop-color="#20bcb0"/><stop offset="0.650" stop-color="#18a8e0"/><stop offset="0.710" stop-color="#1e3ae0"/><stop offset="0.785" stop-color="#2418d2"/><stop offset="1.000" stop-color="#3812bc"/></linearGradient>
<linearGradient id="g4_12" gradientUnits="userSpaceOnUse" x1="0" y1="51.2" x2="0" y2="79.0"><stop offset="0.000" stop-color="#d80606"/><stop offset="0.331" stop-color="#dc0806"/><stop offset="0.365" stop-color="#e87818"/><stop offset="0.411" stop-color="#c8c828"/><stop offset="0.498" stop-color="#48c440"/><stop offset="0.592" stop-color="#20bcb0"/><stop offset="0.652" stop-color="#18a8e0"/><stop offset="0.712" stop-color="#1e3ae0"/><stop offset="0.786" stop-color="#2418d2"/><stop offset="1.000" stop-color="#3812bc"/></linearGradient>
<linearGradient id="g4_13" gradientUnits="userSpaceOnUse" x1="0" y1="51.2" x2="0" y2="79.0"><stop offset="0.000" stop-color="#d80606"/><stop offset="0.337" stop-color="#dc0806"/><stop offset="0.370" stop-color="#e87818"/><stop offset="0.416" stop-color="#c8c828"/><stop offset="0.502" stop-color="#48c440"/><stop offset="0.594" stop-color="#20bcb0"/><stop offset="0.654" stop-color="#18a8e0"/><stop offset="0.714" stop-color="#1e3ae0"/><stop offset="0.787" stop-color="#2418d2"/><stop offset="1.000" stop-color="#3812bc"/></linearGradient>
<g clip-path="url(#c4)"><g filter="url(#sp)"><g filter="url(#w4)" shape-rendering="crispEdges"><rect x="270.80" y="43.2" width="11.55" height="43.8" fill="url(#g4_0)"/><rect x="281.35" y="43.2" width="3.55" height="43.8" fill="url(#g4_1)"/><rect x="283.90" y="43.2" width="3.55" height="43.8" fill="url(#g4_2)"/><rect x="286.45" y="43.2" width="3.55" height="43.8" fill="url(#g4_3)"/><rect x="289.00" y="43.2" width="3.55" height="43.8" fill="url(#g4_4)"/><rect x="291.55" y="43.2" width="3.55" height="43.8" fill="url(#g4_5)"/><rect x="294.10" y="43.2" width="3.55" height="43.8" fill="url(#g4_6)"/><rect x="296.65" y="43.2" width="3.55" height="43.8" fill="url(#g4_7)"/><rect x="299.20" y="43.2" width="3.55" height="43.8" fill="url(#g4_8)"/><rect x="301.75" y="43.2" width="3.55" height="43.8" fill="url(#g4_9)"/><rect x="304.30" y="43.2" width="3.55" height="43.8" fill="url(#g4_10)"/><rect x="306.85" y="43.2" width="3.55" height="43.8" fill="url(#g4_11)"/><rect x="309.40" y="43.2" width="3.55" height="43.8" fill="url(#g4_12)"/><rect x="311.95" y="43.2" width="10.55" height="43.8" fill="url(#g4_13)"/></g></g></g>
<clipPath id="c5"><polygon points="417.3,84.7 457.6,84.7 457.2,87.0 456.8,88.8 457.1,91.2 456.8,93.8 457.5,96.3 457.5,99.3 457.4,101.0 457.0,103.1 457.5,104.8 456.8,107.0 456.8,108.6 456.8,110.5 456.8,112.3 456.7,115.3 456.7,117.8 457.6,120.2 456.3,119.5 455.0,120.4 453.8,119.3 452.3,120.0 450.7,118.4 449.8,119.4 448.6,119.1 447.4,119.0 445.9,119.6 444.4,118.5 442.5,119.5 441.4,119.4 439.7,120.9 438.9,120.7 437.3,118.9 435.9,120.0 434.0,118.5 432.4,120.0 430.5,119.7 429.3,118.6 427.5,119.8 426.6,120.5 425.1,119.9 423.8,119.0 422.7,120.1 421.5,119.6 420.3,119.4 419.0,118.7 417.7,119.6 417.3,119.7 417.6,118.2 418.2,116.2 418.0,113.6 417.5,110.8 417.4,108.0 417.4,106.3 417.7,103.7 417.5,101.1 417.7,98.2 417.9,96.5 418.0,94.7 417.6,92.9 417.9,90.3 417.4,88.0 418.1,86.3"/></clipPath>
<filter id="w5" x="409.3" y="77" width="56.3" height="51.2" filterUnits="userSpaceOnUse" color-interpolation-filters="sRGB"><feTurbulence type="fractalNoise" baseFrequency="0.12 0.25" numOctaves="3" seed="16" result="t"/><feDisplacementMap in="SourceGraphic" in2="t" scale="8" xChannelSelector="B" yChannelSelector="G"/></filter>
<linearGradient id="g5_0" gradientUnits="userSpaceOnUse" x1="0" y1="85.0" x2="0" y2="120.2"><stop offset="0.000" stop-color="#d80606"/><stop offset="0.149" stop-color="#dc0806"/><stop offset="0.192" stop-color="#e87818"/><stop offset="0.253" stop-color="#c8c828"/><stop offset="0.366" stop-color="#48c440"/><stop offset="0.486" stop-color="#20bcb0"/><stop offset="0.563" stop-color="#18a8e0"/><stop offset="0.639" stop-color="#1e3ae0"/><stop offset="0.732" stop-color="#2418d2"/><stop offset="1.000" stop-color="#3812bc"/></linearGradient>
<linearGradient id="g5_1" gradientUnits="userSpaceOnUse" x1="0" y1="85.0" x2="0" y2="120.2"><stop offset="0.000" stop-color="#d80606"/><stop offset="0.146" stop-color="#dc0806"/><stop offset="0.190" stop-color="#e87818"/><stop offset="0.251" stop-color="#c8c828"/><stop offset="0.364" stop-color="#48c440"/><stop offset="0.485" stop-color="#20bcb0"/><stop offset="0.562" stop-color="#18a8e0"/><stop offset="0.639" stop-color="#1e3ae0"/><stop offset="0.732" stop-color="#2418d2"/><stop offset="1.000" stop-color="#3812bc"/></linearGradient>
<linearGradient id="g5_2" gradientUnits="userSpaceOnUse" x1="0" y1="85.0" x2="0" y2="120.2"><stop offset="0.000" stop-color="#d80606"/><stop offset="0.143" stop-color="#dc0806"/><stop offset="0.187" stop-color="#e87818"/><stop offset="0.249" stop-color="#c8c828"/><stop offset="0.362" stop-color="#48c440"/><stop offset="0.484" stop-color="#20bcb0"/><stop offset="0.561" stop-color="#18a8e0"/><stop offset="0.638" stop-color="#1e3ae0"/><stop offset="0.731" stop-color="#2418d2"/><stop offset="1.000" stop-color="#3812bc"/></linearGradient>
<linearGradient id="g5_3" gradientUnits="userSpaceOnUse" x1="0" y1="85.0" x2="0" y2="120.2"><stop offset="0.000" stop-color="#d80606"/><stop offset="0.141" stop-color="#dc0806"/><stop offset="0.185" stop-color="#e87818"/><stop offset="0.247" stop-color="#c8c828"/><stop offset="0.361" stop-color="#48c440"/><stop offset="0.482" stop-color="#20bcb0"/><stop offset="0.560" stop-color="#18a8e0"/><stop offset="0.637" stop-color="#1e3ae0"/><stop offset="0.731" stop-color="#2418d2"/><stop offset="1.000" stop-color="#3812bc"/></linearGradient>
<linearGradient id="g5_4" gradientUnits="userSpaceOnUse" x1="0" y1="85.0" x2="0" y2="120.2"><stop offset="0.000" stop-color="#d80606"/><stop offset="0.150" stop-color="#dc0806"/><stop offset="0.194" stop-color="#e87818"/><stop offset="0.254" stop-color="#c8c828"/><stop offset="0.367" stop-color="#48c440"/><stop offset="0.487" stop-color="#20bcb0"/><stop offset="0.563" stop-color="#18a8e0"/><stop offset="0.640" stop-color="#1e3ae0"/><stop offset="0.733" stop-color="#2418d2"/><stop offset="1.000" stop-color="#3812bc"/></linearGradient>
<linearGradient id="g5_5" gradientUnits="userSpaceOnUse" x1="0" y1="85.0" x2="0" y2="120.2"><stop offset="0.000" stop-color="#d80606"/><stop offset="0.163" stop-color="#dc0806"/><stop offset="0.206" stop-color="#e87818"/><stop offset="0.265" stop-color="#c8c828"/><stop offset="0.375" stop-color="#48c440"/><stop offset="0.493" stop-color="#20bcb0"/><stop offset="0.568" stop-color="#18a8e0"/><stop offset="0.644" stop-color="#1e3ae0"/><stop offset="0.735" stop-color="#2418d2"/><stop offset="1.000" stop-color="#3812bc"/></linearGradient>
<linearGradient id="g5_6" gradientUnits="userSpaceOnUse" x1="0" y1="85.0" x2="0" y2="120.2"><stop offset="0.000" stop-color="#d80606"/><stop offset="0.177" stop-color="#dc0806"/><stop offset="0.218" stop-color="#e87818"/><stop offset="0.276" stop-color="#c8c828"/><stop offset="0.384" stop-color="#48c440"/><stop offset="0.499" stop-color="#20bcb0"/><stop offset="0.573" stop-color="#18a8e0"/><stop offset="0.647" stop-color="#1e3ae0"/><stop offset="0.738" stop-color="#2418d2"/><stop offset="1.000" stop-color="#3812bc"/></linearGradient>
<linearGradient id="g5_7" gradientUnits="userSpaceOnUse" x1="0" y1="85.0" x2="0" y2="120.2"><stop offset="0.000" stop-color="#d80606"/><stop offset="0.190" stop-color="#dc0806"/><stop offset="0.230" stop-color="#e87818"/><stop offset="0.287" stop-color="#c8c828"/><stop offset="0.392" stop-color="#48c440"/><stop offset="0.505" stop-color="#20bcb0"/><stop offset="0.578" stop-color="#18a8e0"/><stop offset="0.651" stop-color="#1e3ae0"/><stop offset="0.740" stop-color="#2418d2"/><stop offset="1.000" stop-color="#3812bc"/></linearGradient>
<linearGradient id="g5_8" gradientUnits="userSpaceOnUse" x1="0" y1="85.0" x2="0" y2="120.2"><stop offset="0.000" stop-color="#d80606"/><stop offset="0.206" stop-color="#dc0806"/><stop offset="0.245" stop-color="#e87818"/><stop offset="0.300" stop-color="#c8c828"/><stop offset="0.402" stop-color="#48c440"/><stop offset="0.513" stop-color="#20bcb0"/><stop offset="0.584" stop-color="#18a8e0"/><stop offset="0.656" stop-color="#1e3ae0"/><stop offset="0.743" stop-color="#2418d2"/><stop offset="1.000" stop-color="#3812bc"/></linearGradient>
<linearGradient id="g5_9" gradientUnits="userSpaceOnUse" x1="0" y1="85.0" x2="0" y2="120.2"><stop offset="0.000" stop-color="#d80606"/><stop offset="0.222" stop-color="#dc0806"/><stop offset="0.260" stop-color="#e87818"/><stop offset="0.313" stop-color="#c8c828"/><stop offset="0.412" stop-color="#48c440"/><stop offset="0.520" stop-color="#20bcb0"/><stop offset="0.590" stop-color="#18a8e0"/><stop offset="0.660" stop-color="#1e3ae0"/><stop offset="0.746" stop-color="#2418d2"/><stop offset="1.000" stop-color="#3812bc"/></linearGradient>
<linearGradient id="g5_10" gradientUnits="userSpaceOnUse" x1="0" y1="85.0" x2="0" y2="120.2"><stop offset="0.000" stop-color="#d80606"/><stop offset="0.238" stop-color="#dc0806"/><stop offset="0.275" stop-color="#e87818"/><stop offset="0.326" stop-color="#c8c828"/><stop offset="0.423" stop-color="#48c440"/><stop offset="0.528" stop-color="#20bcb0"/><stop offset="0.596" stop-color="#18a8e0"/><stop offset="0.665" stop-color="#1e3ae0"/><stop offset="0.749" stop-color="#2418d2"/><stop offset="1.000" stop-color="#3812bc"/></linearGradient>
<linearGradient id="g5_11" gradientUnits="userSpaceOnUse" x1="0" y1="85.0" x2="0" y2="120.2"><stop offset="0.000" stop-color="#d80606"/><stop offset="0.247" stop-color="#dc0806"/><stop offset="0.283" stop-color="#e87818"/><stop offset="0.333" stop-color="#c8c828"/><stop offset="0.428" stop-color="#48c440"/><stop offset="0.532" stop-color="#20bcb0"/><stop offset="0.599" stop-color="#18a8e0"/><stop offset="0.667" stop-color="#1e3ae0"/><stop offset="0.751" stop-color="#2418d2"/><stop offset="1.000" stop-color="#3812bc"/></linearGradient>
<linearGradient id="g5_12" gradientUnits="userSpaceOnUse" x1="0" y1="85.0" x2="0" y2="120.2"><stop offset="0.000" stop-color="#d80606"/><stop offset="0.233" stop-color="#dc0806"/><stop offset="0.270" stop-color="#e87818"/><stop offset="0.322" stop-color="#c8c828"/><stop offset="0.420" stop-color="#48c440"/><stop offset="0.526" stop-color="#20bcb0"/><stop offset="0.594" stop-color="#18a8e0"/><stop offset="0.663" stop-color="#1e3ae0"/><stop offset="0.748" stop-color="#2418d2"/><stop offset="1.000" stop-color="#3812bc"/></linearGradient>
<linearGradient id="g5_13" gradientUnits="userSpaceOnUse" x1="0" y1="85.0" x2="0" y2="120.2"><stop offset="0.000" stop-color="#d80606"/><stop offset="0.220" stop-color="#dc0806"/><stop offset="0.258" stop-color="#e87818"/><stop offset="0.311" stop-color="#c8c828"/><stop offset="0.411" stop-color="#48c440"/><stop offset="0.519" stop-color="#20bcb0"/><stop offset="0.589" stop-color="#18a8e0"/><stop offset="0.660" stop-color="#1e3ae0"/><stop offset="0.746" stop-color="#2418d2"/><stop offset="1.000" stop-color="#3812bc"/></linearGradient>
<linearGradient id="g5_14" gradientUnits="userSpaceOnUse" x1="0" y1="85.0" x2="0" y2="120.2"><stop offset="0.000" stop-color="#d80606"/><stop offset="0.207" stop-color="#dc0806"/><stop offset="0.246" stop-color="#e87818"/><stop offset="0.301" stop-color="#c8c828"/><stop offset="0.403" stop-color="#48c440"/><stop offset="0.513" stop-color="#20bcb0"/><stop offset="0.584" stop-color="#18a8e0"/><stop offset="0.656" stop-color="#1e3ae0"/><stop offset="0.743" stop-color="#2418d2"/><stop offset="1.000" stop-color="#3812bc"/></linearGradient>
<g clip-path="url(#c5)"><g filter="url(#sp)"><g filter="url(#w5)" shape-rendering="crispEdges"><rect x="409.30" y="77.0" width="11.69" height="51.2" fill="url(#g5_0)"/><rect x="419.99" y="77.0" width="3.69" height="51.2" fill="url(#g5_1)"/><rect x="422.67" y="77.0" width="3.69" height="51.2" fill="url(#g5_2)"/><rect x="425.36" y="77.0" width="3.69" height="51.2" fill="url(#g5_3)"/><rect x="428.05" y="77.0" width="3.69" height="51.2" fill="url(#g5_4)"/><rect x="430.73" y="77.0" width="3.69" height="51.2" fill="url(#g5_5)"/><rect x="433.42" y="77.0" width="3.69" height="51.2" fill="url(#g5_6)"/><rect x="436.11" y="77.0" width="3.69" height="51.2" fill="url(#g5_7)"/><rect x="438.79" y="77.0" width="3.69" height="51.2" fill="url(#g5_8)"/><rect x="441.48" y="77.0" width="3.69" height="51.2" fill="url(#g5_9)"/><rect x="444.17" y="77.0" width="3.69" height="51.2" fill="url(#g5_10)"/><rect x="446.85" y="77.0" width="3.69" height="51.2" fill="url(#g5_11)"/><rect x="449.54" y="77.0" width="3.69" height="51.2" fill="url(#g5_12)"/><rect x="452.23" y="77.0" width="3.69" height="51.2" fill="url(#g5_13)"/><rect x="454.91" y="77.0" width="10.69" height="51.2" fill="url(#g5_14)"/></g></g></g>
<clipPath id="c6"><polygon points="470.2,75.6 508.0,75.6 507.2,77.9 507.3,79.9 507.7,82.9 507.7,85.5 507.7,87.2 507.9,89.9 507.7,92.4 507.6,94.1 507.6,96.2 507.2,99.0 507.1,100.9 507.1,103.3 507.5,106.0 507.2,107.9 508.0,110.5 506.3,108.7 504.3,109.0 502.9,109.4 501.3,108.8 499.8,108.6 497.9,110.0 496.7,110.4 495.4,108.9 493.4,109.9 492.5,108.7 490.9,109.5 489.0,110.3 487.8,108.5 486.7,108.6 485.8,108.9 484.4,110.0 483.2,111.2 482.2,110.1 480.5,109.6 479.4,108.7 477.8,108.8 476.4,111.5 474.7,110.5 472.9,108.8 471.3,109.7 470.2,109.1 470.2,109.8 470.4,108.3 470.3,106.4 470.9,104.5 471.0,101.7 470.8,100.2 470.5,97.9 470.8,94.9 470.9,93.0 470.6,90.8 470.6,88.6 470.9,87.1 470.6,85.1 470.7,83.3 470.2,81.7 471.0,79.9 470.8,77.4"/></clipPath>
<filter id="w6" x="462.2" y="67.9" width="53.8" height="50.4" filterUnits="userSpaceOnUse" color-interpolation-filters="sRGB"><feTurbulence type="fractalNoise" baseFrequency="0.12 0.25" numOctaves="3" seed="19" result="t"/><feDisplacementMap in="SourceGraphic" in2="t" scale="8" xChannelSelector="B" yChannelSelector="G"/></filter>
<linearGradient id="g6_0" gradientUnits="userSpaceOnUse" x1="0" y1="75.9" x2="0" y2="110.3"><stop offset="0.000" stop-color="#d80606"/><stop offset="0.107" stop-color="#dc0806"/><stop offset="0.154" stop-color="#e87818"/><stop offset="0.220" stop-color="#c8c828"/><stop offset="0.341" stop-color="#48c440"/><stop offset="0.470" stop-color="#20bcb0"/><stop offset="0.551" stop-color="#18a8e0"/><stop offset="0.631" stop-color="#1e3ae0"/><stop offset="0.727" stop-color="#2418d2"/><stop offset="1.000" stop-color="#3812bc"/></linearGradient>
<linearGradient id="g6_1" gradientUnits="userSpaceOnUse" x1="0" y1="75.9" x2="0" y2="110.3"><stop offset="0.000" stop-color="#d80606"/><stop offset="0.120" stop-color="#dc0806"/><stop offset="0.167" stop-color="#e87818"/><stop offset="0.231" stop-color="#c8c828"/><stop offset="0.350" stop-color="#48c440"/><stop offset="0.476" stop-color="#20bcb0"/><stop offset="0.556" stop-color="#18a8e0"/><stop offset="0.635" stop-color="#1e3ae0"/><stop offset="0.730" stop-color="#2418d2"/><stop offset="1.000" stop-color="#3812bc"/></linearGradient>
<linearGradient id="g6_2" gradientUnits="userSpaceOnUse" x1="0" y1="75.9" x2="0" y2="110.3"><stop offset="0.000" stop-color="#d80606"/><stop offset="0.133" stop-color="#dc0806"/><stop offset="0.179" stop-color="#e87818"/><stop offset="0.242" stop-color="#c8c828"/><stop offset="0.358" stop-color="#48c440"/><stop offset="0.482" stop-color="#20bcb0"/><stop offset="0.561" stop-color="#18a8e0"/><stop offset="0.638" stop-color="#1e3ae0"/><stop offset="0.732" stop-color="#2418d2"/><stop offset="1.000" stop-color="#3812bc"/></linearGradient>
<linearGradient id="g6_3" gradientUnits="userSpaceOnUse" x1="0" y1="75.9" x2="0" y2="110.3"><stop offset="0.000" stop-color="#d80606"/><stop offset="0.147" stop-color="#dc0806"/><stop offset="0.191" stop-color="#e87818"/><stop offset="0.253" stop-color="#c8c828"/><stop offset="0.367" stop-color="#48c440"/><stop offset="0.488" stop-color="#20bcb0"/><stop offset="0.565" stop-color="#18a8e0"/><stop offset="0.642" stop-color="#1e3ae0"/><stop offset="0.735" stop-color="#2418d2"/><stop offset="1.000" stop-color="#3812bc"/></linearGradient>
<linearGradient id="g6_4" gradientUnits="userSpaceOnUse" x1="0" y1="75.9" x2="0" y2="110.3"><stop offset="0.000" stop-color="#d80606"/><stop offset="0.166" stop-color="#dc0806"/><stop offset="0.209" stop-color="#e87818"/><stop offset="0.269" stop-color="#c8c828"/><stop offset="0.379" stop-color="#48c440"/><stop offset="0.497" stop-color="#20bcb0"/><stop offset="0.573" stop-color="#18a8e0"/><stop offset="0.648" stop-color="#1e3ae0"/><stop offset="0.739" stop-color="#2418d2"/><stop offset="1.000" stop-color="#3812bc"/></linearGradient>
<linearGradient id="g6_5" gradientUnits="userSpaceOnUse" x1="0" y1="75.9" x2="0" y2="110.3"><stop offset="0.000" stop-color="#d80606"/><stop offset="0.187" stop-color="#dc0806"/><stop offset="0.229" stop-color="#e87818"/><stop offset="0.286" stop-color="#c8c828"/><stop offset="0.393" stop-color="#48c440"/><stop offset="0.507" stop-color="#20bcb0"/><stop offset="0.581" stop-color="#18a8e0"/><stop offset="0.654" stop-color="#1e3ae0"/><stop offset="0.743" stop-color="#2418d2"/><stop offset="1.000" stop-color="#3812bc"/></linearGradient>
<linearGradient id="g6_6" gradientUnits="userSpaceOnUse" x1="0" y1="75.9" x2="0" y2="110.3"><stop offset="0.000" stop-color="#d80606"/><stop offset="0.209" stop-color="#dc0806"/><stop offset="0.248" stop-color="#e87818"/><stop offset="0.304" stop-color="#c8c828"/><stop offset="0.406" stop-color="#48c440"/><stop offset="0.517" stop-color="#20bcb0"/><stop offset="0.588" stop-color="#18a8e0"/><stop offset="0.660" stop-color="#1e3ae0"/><stop offset="0.747" stop-color="#2418d2"/><stop offset="1.000" stop-color="#3812bc"/></linearGradient>
<linearGradient id="g6_7" gradientUnits="userSpaceOnUse" x1="0" y1="75.9" x2="0" y2="110.3"><stop offset="0.000" stop-color="#d80606"/><stop offset="0.230" stop-color="#dc0806"/><stop offset="0.268" stop-color="#e87818"/><stop offset="0.321" stop-color="#c8c828"/><stop offset="0.420" stop-color="#48c440"/><stop offset="0.527" stop-color="#20bcb0"/><stop offset="0.596" stop-color="#18a8e0"/><stop offset="0.666" stop-color="#1e3ae0"/><stop offset="0.751" stop-color="#2418d2"/><stop offset="1.000" stop-color="#3812bc"/></linearGradient>
<linearGradient id="g6_8" gradientUnits="userSpaceOnUse" x1="0" y1="75.9" x2="0" y2="110.3"><stop offset="0.000" stop-color="#d80606"/><stop offset="0.251" stop-color="#dc0806"/><stop offset="0.288" stop-color="#e87818"/><stop offset="0.338" stop-color="#c8c828"/><stop offset="0.434" stop-color="#48c440"/><stop offset="0.537" stop-color="#20bcb0"/><stop offset="0.604" stop-color="#18a8e0"/><stop offset="0.672" stop-color="#1e3ae0"/><stop offset="0.755" stop-color="#2418d2"/><stop offset="1.000" stop-color="#3812bc"/></linearGradient>
<linearGradient id="g6_9" gradientUnits="userSpaceOnUse" x1="0" y1="75.9" x2="0" y2="110.3"><stop offset="0.000" stop-color="#d80606"/><stop offset="0.273" stop-color="#dc0806"/><stop offset="0.307" stop-color="#e87818"/><stop offset="0.356" stop-color="#c8c828"/><stop offset="0.447" stop-color="#48c440"/><stop offset="0.547" stop-color="#20bcb0"/><stop offset="0.612" stop-color="#18a8e0"/><stop offset="0.678" stop-color="#1e3ae0"/><stop offset="0.759" stop-color="#2418d2"/><stop offset="1.000" stop-color="#3812bc"/></linearGradient>
<linearGradient id="g6_10" gradientUnits="userSpaceOnUse" x1="0" y1="75.9" x2="0" y2="110.3"><stop offset="0.000" stop-color="#d80606"/><stop offset="0.294" stop-color="#dc0806"/><stop offset="0.327" stop-color="#e87818"/><stop offset="0.373" stop-color="#c8c828"/><stop offset="0.461" stop-color="#48c440"/><stop offset="0.557" stop-color="#20bcb0"/><stop offset="0.620" stop-color="#18a8e0"/><stop offset="0.684" stop-color="#1e3ae0"/><stop offset="0.763" stop-color="#2418d2"/><stop offset="1.000" stop-color="#3812bc"/></linearGradient>
<linearGradient id="g6_11" gradientUnits="userSpaceOnUse" x1="0" y1="75.9" x2="0" y2="110.3"><stop offset="0.000" stop-color="#d80606"/><stop offset="0.306" stop-color="#dc0806"/><stop offset="0.338" stop-color="#e87818"/><stop offset="0.383" stop-color="#c8c828"/><stop offset="0.468" stop-color="#48c440"/><stop offset="0.563" stop-color="#20bcb0"/><stop offset="0.624" stop-color="#18a8e0"/><stop offset="0.687" stop-color="#1e3ae0"/><stop offset="0.765" stop-color="#2418d2"/><stop offset="1.000" stop-color="#3812bc"/></linearGradient>
<linearGradient id="g6_12" gradientUnits="userSpaceOnUse" x1="0" y1="75.9" x2="0" y2="110.3"><stop offset="0.000" stop-color="#d80606"/><stop offset="0.290" stop-color="#dc0806"/><stop offset="0.323" stop-color="#e87818"/><stop offset="0.370" stop-color="#c8c828"/><stop offset="0.458" stop-color="#48c440"/><stop offset="0.555" stop-color="#20bcb0"/><stop offset="0.619" stop-color="#18a8e0"/><stop offset="0.683" stop-color="#1e3ae0"/><stop offset="0.762" stop-color="#2418d2"/><stop offset="1.000" stop-color="#3812bc"/></linearGradient>
<linearGradient id="g6_13" gradientUnits="userSpaceOnUse" x1="0" y1="75.9" x2="0" y2="110.3"><stop offset="0.000" stop-color="#d80606"/><stop offset="0.274" stop-color="#dc0806"/><stop offset="0.308" stop-color="#e87818"/><stop offset="0.357" stop-color="#c8c828"/><stop offset="0.448" stop-color="#48c440"/><stop offset="0.548" stop-color="#20bcb0"/><stop offset="0.613" stop-color="#18a8e0"/><stop offset="0.678" stop-color="#1e3ae0"/><stop offset="0.759" stop-color="#2418d2"/><stop offset="1.000" stop-color="#3812bc"/></linearGradient>
<linearGradient id="g6_14" gradientUnits="userSpaceOnUse" x1="0" y1="75.9" x2="0" y2="110.3"><stop offset="0.000" stop-color="#d80606"/><stop offset="0.258" stop-color="#dc0806"/><stop offset="0.294" stop-color="#e87818"/><stop offset="0.344" stop-color="#c8c828"/><stop offset="0.438" stop-color="#48c440"/><stop offset="0.540" stop-color="#20bcb0"/><stop offset="0.607" stop-color="#18a8e0"/><stop offset="0.674" stop-color="#1e3ae0"/><stop offset="0.756" stop-color="#2418d2"/><stop offset="1.000" stop-color="#3812bc"/></linearGradient>
<g clip-path="url(#c6)"><g filter="url(#sp)"><g filter="url(#w6)" shape-rendering="crispEdges"><rect x="462.20" y="67.9" width="11.52" height="50.4" fill="url(#g6_0)"/><rect x="472.72" y="67.9" width="3.52" height="50.4" fill="url(#g6_1)"/><rect x="475.24" y="67.9" width="3.52" height="50.4" fill="url(#g6_2)"/><rect x="477.76" y="67.9" width="3.52" height="50.4" fill="url(#g6_3)"/><rect x="480.28" y="67.9" width="3.52" height="50.4" fill="url(#g6_4)"/><rect x="482.80" y="67.9" width="3.52" height="50.4" fill="url(#g6_5)"/><rect x="485.32" y="67.9" width="3.52" height="50.4" fill="url(#g6_6)"/><rect x="487.84" y="67.9" width="3.52" height="50.4" fill="url(#g6_7)"/><rect x="490.36" y="67.9" width="3.52" height="50.4" fill="url(#g6_8)"/><rect x="492.88" y="67.9" width="3.52" height="50.4" fill="url(#g6_9)"/><rect x="495.40" y="67.9" width="3.52" height="50.4" fill="url(#g6_10)"/><rect x="497.92" y="67.9" width="3.52" height="50.4" fill="url(#g6_11)"/><rect x="500.44" y="67.9" width="3.52" height="50.4" fill="url(#g6_12)"/><rect x="502.96" y="67.9" width="3.52" height="50.4" fill="url(#g6_13)"/><rect x="505.48" y="67.9" width="10.52" height="50.4" fill="url(#g6_14)"/></g></g></g>
<clipPath id="c7"><polygon points="523.6,61.3 561.5,61.3 561.0,63.6 561.2,66.0 560.8,68.9 561.1,71.5 560.8,74.3 561.4,76.7 560.6,78.8 561.2,81.2 561.4,83.6 560.8,85.6 561.2,87.8 561.0,90.8 561.4,93.0 561.5,94.5 559.6,94.3 557.7,94.7 556.1,94.7 554.2,95.7 552.9,94.9 551.8,94.2 550.5,94.5 548.8,95.0 547.1,93.6 545.1,94.3 543.4,94.9 541.9,95.9 540.1,94.7 539.1,94.7 537.4,94.7 536.5,94.7 535.1,94.2 533.6,96.6 532.3,95.5 531.1,95.1 529.4,94.3 527.5,94.9 525.9,93.8 524.5,96.2 523.7,94.1 523.6,94.9 523.8,93.4 524.3,91.5 524.4,88.8 524.1,86.3 524.1,84.1 523.9,81.5 523.8,78.7 524.0,75.7 523.7,74.1 524.4,71.6 523.6,70.0 524.3,68.0 524.0,66.2 523.6,64.3 523.9,62.6"/></clipPath>
<filter id="w7" x="515.6" y="53.6" width="53.9" height="49.8" filterUnits="userSpaceOnUse" color-interpolation-filters="sRGB"><feTurbulence type="fractalNoise" baseFrequency="0.12 0.25" numOctaves="3" seed="22" result="t"/><feDisplacementMap in="SourceGraphic" in2="t" scale="8" xChannelSelector="B" yChannelSelector="G"/></filter>
<linearGradient id="g7_0" gradientUnits="userSpaceOnUse" x1="0" y1="61.6" x2="0" y2="95.4"><stop offset="0.000" stop-color="#d80606"/><stop offset="0.207" stop-color="#dc0806"/><stop offset="0.248" stop-color="#e87818"/><stop offset="0.305" stop-color="#c8c828"/><stop offset="0.410" stop-color="#48c440"/><stop offset="0.523" stop-color="#20bcb0"/><stop offset="0.595" stop-color="#18a8e0"/><stop offset="0.666" stop-color="#1e3ae0"/><stop offset="0.752" stop-color="#2418d2"/><stop offset="1.000" stop-color="#3812bc"/></linearGradient>
<linearGradient id="g7_1" gradientUnits="userSpaceOnUse" x1="0" y1="61.6" x2="0" y2="95.4"><stop offset="0.000" stop-color="#d80606"/><stop offset="0.220" stop-color="#dc0806"/><stop offset="0.260" stop-color="#e87818"/><stop offset="0.316" stop-color="#c8c828"/><stop offset="0.419" stop-color="#48c440"/><stop offset="0.529" stop-color="#20bcb0"/><stop offset="0.599" stop-color="#18a8e0"/><stop offset="0.670" stop-color="#1e3ae0"/><stop offset="0.755" stop-color="#2418d2"/><stop offset="1.000" stop-color="#3812bc"/></linearGradient>
<linearGradient id="g7_2" gradientUnits="userSpaceOnUse" x1="0" y1="61.6" x2="0" y2="95.4"><stop offset="0.000" stop-color="#d80606"/><stop offset="0.233" stop-color="#dc0806"/><stop offset="0.272" stop-color="#e87818"/><stop offset="0.327" stop-color="#c8c828"/><stop offset="0.427" stop-color="#48c440"/><stop offset="0.535" stop-color="#20bcb0"/><stop offset="0.604" stop-color="#18a8e0"/><stop offset="0.673" stop-color="#1e3ae0"/><stop offset="0.757" stop-color="#2418d2"/><stop offset="1.000" stop-color="#3812bc"/></linearGradient>
<linearGradient id="g7_3" gradientUnits="userSpaceOnUse" x1="0" y1="61.6" x2="0" y2="95.4"><stop offset="0.000" stop-color="#d80606"/><stop offset="0.247" stop-color="#dc0806"/><stop offset="0.285" stop-color="#e87818"/><stop offset="0.338" stop-color="#c8c828"/><stop offset="0.436" stop-color="#48c440"/><stop offset="0.542" stop-color="#20bcb0"/><stop offset="0.609" stop-color="#18a8e0"/><stop offset="0.677" stop-color="#1e3ae0"/><stop offset="0.760" stop-color="#2418d2"/><stop offset="1.000" stop-color="#3812bc"/></linearGradient>
<linearGradient id="g7_4" gradientUnits="userSpaceOnUse" x1="0" y1="61.6" x2="0" y2="95.4"><stop offset="0.000" stop-color="#d80606"/><stop offset="0.272" stop-color="#dc0806"/><stop offset="0.308" stop-color="#e87818"/><stop offset="0.358" stop-color="#c8c828"/><stop offset="0.452" stop-color="#48c440"/><stop offset="0.553" stop-color="#20bcb0"/><stop offset="0.619" stop-color="#18a8e0"/><stop offset="0.684" stop-color="#1e3ae0"/><stop offset="0.765" stop-color="#2418d2"/><stop offset="1.000" stop-color="#3812bc"/></linearGradient>
<linearGradient id="g7_5" gradientUnits="userSpaceOnUse" x1="0" y1="61.6" x2="0" y2="95.4"><stop offset="0.000" stop-color="#d80606"/><stop offset="0.301" stop-color="#dc0806"/><stop offset="0.335" stop-color="#e87818"/><stop offset="0.382" stop-color="#c8c828"/><stop offset="0.471" stop-color="#48c440"/><stop offset="0.567" stop-color="#20bcb0"/><stop offset="0.630" stop-color="#18a8e0"/><stop offset="0.693" stop-color="#1e3ae0"/><stop offset="0.770" stop-color="#2418d2"/><stop offset="1.000" stop-color="#3812bc"/></linearGradient>
<linearGradient id="g7_6" gradientUnits="userSpaceOnUse" x1="0" y1="61.6" x2="0" y2="95.4"><stop offset="0.000" stop-color="#d80606"/><stop offset="0.331" stop-color="#dc0806"/><stop offset="0.362" stop-color="#e87818"/><stop offset="0.406" stop-color="#c8c828"/><stop offset="0.489" stop-color="#48c440"/><stop offset="0.581" stop-color="#20bcb0"/><stop offset="0.640" stop-color="#18a8e0"/><stop offset="0.701" stop-color="#1e3ae0"/><stop offset="0.776" stop-color="#2418d2"/><stop offset="1.000" stop-color="#3812bc"/></linearGradient>
<linearGradient id="g7_7" gradientUnits="userSpaceOnUse" x1="0" y1="61.6" x2="0" y2="95.4"><stop offset="0.000" stop-color="#d80606"/><stop offset="0.360" stop-color="#dc0806"/><stop offset="0.389" stop-color="#e87818"/><stop offset="0.430" stop-color="#c8c828"/><stop offset="0.508" stop-color="#48c440"/><stop offset="0.594" stop-color="#20bcb0"/><stop offset="0.651" stop-color="#18a8e0"/><stop offset="0.709" stop-color="#1e3ae0"/><stop offset="0.781" stop-color="#2418d2"/><stop offset="1.000" stop-color="#3812bc"/></linearGradient>
<linearGradient id="g7_8" gradientUnits="userSpaceOnUse" x1="0" y1="61.6" x2="0" y2="95.4"><stop offset="0.000" stop-color="#d80606"/><stop offset="0.331" stop-color="#dc0806"/><stop offset="0.362" stop-color="#e87818"/><stop offset="0.406" stop-color="#c8c828"/><stop offset="0.489" stop-color="#48c440"/><stop offset="0.581" stop-color="#20bcb0"/><stop offset="0.640" stop-color="#18a8e0"/><stop offset="0.701" stop-color="#1e3ae0"/><stop offset="0.776" stop-color="#2418d2"/><stop offset="1.000" stop-color="#3812bc"/></linearGradient>
<linearGradient id="g7_9" gradientUnits="userSpaceOnUse" x1="0" y1="61.6" x2="0" y2="95.4"><stop offset="0.000" stop-color="#d80606"/><stop offset="0.301" stop-color="#dc0806"/><stop offset="0.335" stop-color="#e87818"/><stop offset="0.382" stop-color="#c8c828"/><stop offset="0.471" stop-color="#48c440"/><stop offset="0.567" stop-color="#20bcb0"/><stop offset="0.630" stop-color="#18a8e0"/><stop offset="0.693" stop-color="#1e3ae0"/><stop offset="0.770" stop-color="#2418d2"/><stop offset="1.000" stop-color="#3812bc"/></linearGradient>
<linearGradient id="g7_10" gradientUnits="userSpaceOnUse" x1="0" y1="61.6" x2="0" y2="95.4"><stop offset="0.000" stop-color="#d80606"/><stop offset="0.272" stop-color="#dc0806"/><stop offset="0.308" stop-color="#e87818"/><stop offset="0.358" stop-color="#c8c828"/><stop offset="0.452" stop-color="#48c440"/><stop offset="0.553" stop-color="#20bcb0"/><stop offset="0.619" stop-color="#18a8e0"/><stop offset="0.684" stop-color="#1e3ae0"/><stop offset="0.765" stop-color="#2418d2"/><stop offset="1.000" stop-color="#3812bc"/></linearGradient>
<linearGradient id="g7_11" gradientUnits="userSpaceOnUse" x1="0" y1="61.6" x2="0" y2="95.4"><stop offset="0.000" stop-color="#d80606"/><stop offset="0.247" stop-color="#dc0806"/><stop offset="0.285" stop-color="#e87818"/><stop offset="0.338" stop-color="#c8c828"/><stop offset="0.436" stop-color="#48c440"/><stop offset="0.542" stop-color="#20bcb0"/><stop offset="0.610" stop-color="#18a8e0"/><stop offset="0.677" stop-color="#1e3ae0"/><stop offset="0.760" stop-color="#2418d2"/><stop offset="1.000" stop-color="#3812bc"/></linearGradient>
<linearGradient id="g7_12" gradientUnits="userSpaceOnUse" x1="0" y1="61.6" x2="0" y2="95.4"><stop offset="0.000" stop-color="#d80606"/><stop offset="0.237" stop-color="#dc0806"/><stop offset="0.275" stop-color="#e87818"/><stop offset="0.329" stop-color="#c8c828"/><stop offset="0.429" stop-color="#48c440"/><stop offset="0.537" stop-color="#20bcb0"/><stop offset="0.606" stop-color="#18a8e0"/><stop offset="0.674" stop-color="#1e3ae0"/><stop offset="0.758" stop-color="#2418d2"/><stop offset="1.000" stop-color="#3812bc"/></linearGradient>
<linearGradient id="g7_13" gradientUnits="userSpaceOnUse" x1="0" y1="61.6" x2="0" y2="95.4"><stop offset="0.000" stop-color="#d80606"/><stop offset="0.226" stop-color="#dc0806"/><stop offset="0.265" stop-color="#e87818"/><stop offset="0.321" stop-color="#c8c828"/><stop offset="0.423" stop-color="#48c440"/><stop offset="0.532" stop-color="#20bcb0"/><stop offset="0.602" stop-color="#18a8e0"/><stop offset="0.671" stop-color="#1e3ae0"/><stop offset="0.756" stop-color="#2418d2"/><stop offset="1.000" stop-color="#3812bc"/></linearGradient>
<linearGradient id="g7_14" gradientUnits="userSpaceOnUse" x1="0" y1="61.6" x2="0" y2="95.4"><stop offset="0.000" stop-color="#d80606"/><stop offset="0.215" stop-color="#dc0806"/><stop offset="0.256" stop-color="#e87818"/><stop offset="0.312" stop-color="#c8c828"/><stop offset="0.416" stop-color="#48c440"/><stop offset="0.527" stop-color="#20bcb0"/><stop offset="0.598" stop-color="#18a8e0"/><stop offset="0.668" stop-color="#1e3ae0"/><stop offset="0.754" stop-color="#2418d2"/><stop offset="1.000" stop-color="#3812bc"/></linearGradient>
<g clip-path="url(#c7)"><g filter="url(#sp)"><g filter="url(#w7)" shape-rendering="crispEdges"><rect x="515.60" y="53.6" width="11.53" height="49.8" fill="url(#g7_0)"/><rect x="526.13" y="53.6" width="3.53" height="49.8" fill="url(#g7_1)"/><rect x="528.65" y="53.6" width="3.53" height="49.8" fill="url(#g7_2)"/><rect x="531.18" y="53.6" width="3.53" height="49.8" fill="url(#g7_3)"/><rect x="533.71" y="53.6" width="3.53" height="49.8" fill="url(#g7_4)"/><rect x="536.23" y="53.6" width="3.53" height="49.8" fill="url(#g7_5)"/><rect x="538.76" y="53.6" width="3.53" height="49.8" fill="url(#g7_6)"/><rect x="541.29" y="53.6" width="3.53" height="49.8" fill="url(#g7_7)"/><rect x="543.81" y="53.6" width="3.53" height="49.8" fill="url(#g7_8)"/><rect x="546.34" y="53.6" width="3.53" height="49.8" fill="url(#g7_9)"/><rect x="548.87" y="53.6" width="3.53" height="49.8" fill="url(#g7_10)"/><rect x="551.39" y="53.6" width="3.53" height="49.8" fill="url(#g7_11)"/><rect x="553.92" y="53.6" width="3.53" height="49.8" fill="url(#g7_12)"/><rect x="556.45" y="53.6" width="3.53" height="49.8" fill="url(#g7_13)"/><rect x="558.97" y="53.6" width="10.53" height="49.8" fill="url(#g7_14)"/></g></g></g>
<clipPath id="c8"><polygon points="579.2,52.5 618.8,52.5 618.8,54.8 618.3,57.3 618.0,60.2 618.1,62.7 618.3,65.0 618.1,67.8 618.0,69.8 618.1,71.6 618.6,74.3 618.5,76.2 618.5,78.4 618.6,79.9 618.3,82.8 618.7,84.3 617.9,86.2 618.8,88.1 617.1,88.0 616.2,87.0 614.5,87.4 613.0,87.6 611.4,87.6 609.5,87.6 608.0,87.9 606.6,86.5 605.0,89.0 603.8,87.7 602.4,87.7 600.8,86.4 599.7,86.7 598.1,86.8 597.3,88.5 595.6,87.5 594.6,89.3 592.9,87.3 591.4,87.4 590.0,88.0 588.2,87.7 587.1,86.5 586.3,87.9 585.0,86.9 584.0,87.7 582.8,88.4 581.3,86.7 579.6,87.4 579.2,87.6 579.4,86.1 580.0,84.2 579.4,81.9 579.3,80.1 579.9,77.2 580.1,74.7 579.3,72.1 579.7,69.8 579.4,68.0 579.6,65.1 579.7,62.9 580.0,60.7 579.5,58.3 579.4,56.8 579.6,55.1"/></clipPath>
<filter id="w8" x="571.2" y="44.8" width="55.6" height="51.3" filterUnits="userSpaceOnUse" color-interpolation-filters="sRGB"><feTurbulence type="fractalNoise" baseFrequency="0.12 0.25" numOctaves="3" seed="25" result="t"/><feDisplacementMap in="SourceGraphic" in2="t" scale="8" xChannelSelector="B" yChannelSelector="G"/></filter>
<linearGradient id="g8_0" gradientUnits="userSpaceOnUse" x1="0" y1="52.8" x2="0" y2="88.1"><stop offset="0.000" stop-color="#d80606"/><stop offset="0.237" stop-color="#dc0806"/><stop offset="0.276" stop-color="#e87818"/><stop offset="0.332" stop-color="#c8c828"/><stop offset="0.433" stop-color="#48c440"/><stop offset="0.542" stop-color="#20bcb0"/><stop offset="0.611" stop-color="#18a8e0"/><stop offset="0.679" stop-color="#1e3ae0"/><stop offset="0.762" stop-color="#2418d2"/><stop offset="1.000" stop-color="#3812bc"/></linearGradient>
<linearGradient id="g8_1" gradientUnits="userSpaceOnUse" x1="0" y1="52.8" x2="0" y2="88.1"><stop offset="0.000" stop-color="#d80606"/><stop offset="0.250" stop-color="#dc0806"/><stop offset="0.289" stop-color="#e87818"/><stop offset="0.342" stop-color="#c8c828"/><stop offset="0.442" stop-color="#48c440"/><stop offset="0.548" stop-color="#20bcb0"/><stop offset="0.616" stop-color="#18a8e0"/><stop offset="0.683" stop-color="#1e3ae0"/><stop offset="0.765" stop-color="#2418d2"/><stop offset="1.000" stop-color="#3812bc"/></linearGradient>
<linearGradient id="g8_2" gradientUnits="userSpaceOnUse" x1="0" y1="52.8" x2="0" y2="88.1"><stop offset="0.000" stop-color="#d80606"/><stop offset="0.263" stop-color="#dc0806"/><stop offset="0.301" stop-color="#e87818"/><stop offset="0.353" stop-color="#c8c828"/><stop offset="0.450" stop-color="#48c440"/><stop offset="0.554" stop-color="#20bcb0"/><stop offset="0.621" stop-color="#18a8e0"/><stop offset="0.687" stop-color="#1e3ae0"/><stop offset="0.767" stop-color="#2418d2"/><stop offset="1.000" stop-color="#3812bc"/></linearGradient>
<linearGradient id="g8_3" gradientUnits="userSpaceOnUse" x1="0" y1="52.8" x2="0" y2="88.1"><stop offset="0.000" stop-color="#d80606"/><stop offset="0.277" stop-color="#dc0806"/><stop offset="0.313" stop-color="#e87818"/><stop offset="0.364" stop-color="#c8c828"/><stop offset="0.459" stop-color="#48c440"/><stop offset="0.560" stop-color="#20bcb0"/><stop offset="0.626" stop-color="#18a8e0"/><stop offset="0.691" stop-color="#1e3ae0"/><stop offset="0.770" stop-color="#2418d2"/><stop offset="1.000" stop-color="#3812bc"/></linearGradient>
<linearGradient id="g8_4" gradientUnits="userSpaceOnUse" x1="0" y1="52.8" x2="0" y2="88.1"><stop offset="0.000" stop-color="#d80606"/><stop offset="0.284" stop-color="#dc0806"/><stop offset="0.320" stop-color="#e87818"/><stop offset="0.370" stop-color="#c8c828"/><stop offset="0.463" stop-color="#48c440"/><stop offset="0.564" stop-color="#20bcb0"/><stop offset="0.628" stop-color="#18a8e0"/><stop offset="0.693" stop-color="#1e3ae0"/><stop offset="0.771" stop-color="#2418d2"/><stop offset="1.000" stop-color="#3812bc"/></linearGradient>
<linearGradient id="g8_5" gradientUnits="userSpaceOnUse" x1="0" y1="52.8" x2="0" y2="88.1"><stop offset="0.000" stop-color="#d80606"/><stop offset="0.289" stop-color="#dc0806"/><stop offset="0.325" stop-color="#e87818"/><stop offset="0.375" stop-color="#c8c828"/><stop offset="0.467" stop-color="#48c440"/><stop offset="0.566" stop-color="#20bcb0"/><stop offset="0.630" stop-color="#18a8e0"/><stop offset="0.694" stop-color="#1e3ae0"/><stop offset="0.772" stop-color="#2418d2"/><stop offset="1.000" stop-color="#3812bc"/></linearGradient>
<linearGradient id="g8_6" gradientUnits="userSpaceOnUse" x1="0" y1="52.8" x2="0" y2="88.1"><stop offset="0.000" stop-color="#d80606"/><stop offset="0.295" stop-color="#dc0806"/><stop offset="0.330" stop-color="#e87818"/><stop offset="0.379" stop-color="#c8c828"/><stop offset="0.470" stop-color="#48c440"/><stop offset="0.569" stop-color="#20bcb0"/><stop offset="0.632" stop-color="#18a8e0"/><stop offset="0.696" stop-color="#1e3ae0"/><stop offset="0.773" stop-color="#2418d2"/><stop offset="1.000" stop-color="#3812bc"/></linearGradient>
<linearGradient id="g8_7" gradientUnits="userSpaceOnUse" x1="0" y1="52.8" x2="0" y2="88.1"><stop offset="0.000" stop-color="#d80606"/><stop offset="0.300" stop-color="#dc0806"/><stop offset="0.335" stop-color="#e87818"/><stop offset="0.383" stop-color="#c8c828"/><stop offset="0.474" stop-color="#48c440"/><stop offset="0.571" stop-color="#20bcb0"/><stop offset="0.634" stop-color="#18a8e0"/><stop offset="0.697" stop-color="#1e3ae0"/><stop offset="0.774" stop-color="#2418d2"/><stop offset="1.000" stop-color="#3812bc"/></linearGradient>
<linearGradient id="g8_8" gradientUnits="userSpaceOnUse" x1="0" y1="52.8" x2="0" y2="88.1"><stop offset="0.000" stop-color="#d80606"/><stop offset="0.313" stop-color="#dc0806"/><stop offset="0.347" stop-color="#e87818"/><stop offset="0.394" stop-color="#c8c828"/><stop offset="0.482" stop-color="#48c440"/><stop offset="0.578" stop-color="#20bcb0"/><stop offset="0.639" stop-color="#18a8e0"/><stop offset="0.701" stop-color="#1e3ae0"/><stop offset="0.777" stop-color="#2418d2"/><stop offset="1.000" stop-color="#3812bc"/></linearGradient>
<linearGradient id="g8_9" gradientUnits="userSpaceOnUse" x1="0" y1="52.8" x2="0" y2="88.1"><stop offset="0.000" stop-color="#d80606"/><stop offset="0.327" stop-color="#dc0806"/><stop offset="0.359" stop-color="#e87818"/><stop offset="0.405" stop-color="#c8c828"/><stop offset="0.491" stop-color="#48c440"/><stop offset="0.584" stop-color="#20bcb0"/><stop offset="0.644" stop-color="#18a8e0"/><stop offset="0.705" stop-color="#1e3ae0"/><stop offset="0.779" stop-color="#2418d2"/><stop offset="1.000" stop-color="#3812bc"/></linearGradient>
<linearGradient id="g8_10" gradientUnits="userSpaceOnUse" x1="0" y1="52.8" x2="0" y2="88.1"><stop offset="0.000" stop-color="#d80606"/><stop offset="0.340" stop-color="#dc0806"/><stop offset="0.372" stop-color="#e87818"/><stop offset="0.416" stop-color="#c8c828"/><stop offset="0.499" stop-color="#48c440"/><stop offset="0.590" stop-color="#20bcb0"/><stop offset="0.649" stop-color="#18a8e0"/><stop offset="0.709" stop-color="#1e3ae0"/><stop offset="0.782" stop-color="#2418d2"/><stop offset="1.000" stop-color="#3812bc"/></linearGradient>
<linearGradient id="g8_11" gradientUnits="userSpaceOnUse" x1="0" y1="52.8" x2="0" y2="88.1"><stop offset="0.000" stop-color="#d80606"/><stop offset="0.345" stop-color="#dc0806"/><stop offset="0.376" stop-color="#e87818"/><stop offset="0.420" stop-color="#c8c828"/><stop offset="0.503" stop-color="#48c440"/><stop offset="0.592" stop-color="#20bcb0"/><stop offset="0.651" stop-color="#18a8e0"/><stop offset="0.710" stop-color="#1e3ae0"/><stop offset="0.783" stop-color="#2418d2"/><stop offset="1.000" stop-color="#3812bc"/></linearGradient>
<linearGradient id="g8_12" gradientUnits="userSpaceOnUse" x1="0" y1="52.8" x2="0" y2="88.1"><stop offset="0.000" stop-color="#d80606"/><stop offset="0.327" stop-color="#dc0806"/><stop offset="0.359" stop-color="#e87818"/><stop offset="0.405" stop-color="#c8c828"/><stop offset="0.491" stop-color="#48c440"/><stop offset="0.584" stop-color="#20bcb0"/><stop offset="0.644" stop-color="#18a8e0"/><stop offset="0.705" stop-color="#1e3ae0"/><stop offset="0.779" stop-color="#2418d2"/><stop offset="1.000" stop-color="#3812bc"/></linearGradient>
<linearGradient id="g8_13" gradientUnits="userSpaceOnUse" x1="0" y1="52.8" x2="0" y2="88.1"><stop offset="0.000" stop-color="#d80606"/><stop offset="0.308" stop-color="#dc0806"/><stop offset="0.342" stop-color="#e87818"/><stop offset="0.390" stop-color="#c8c828"/><stop offset="0.479" stop-color="#48c440"/><stop offset="0.575" stop-color="#20bcb0"/><stop offset="0.637" stop-color="#18a8e0"/><stop offset="0.699" stop-color="#1e3ae0"/><stop offset="0.776" stop-color="#2418d2"/><stop offset="1.000" stop-color="#3812bc"/></linearGradient>
<linearGradient id="g8_14" gradientUnits="userSpaceOnUse" x1="0" y1="52.8" x2="0" y2="88.1"><stop offset="0.000" stop-color="#d80606"/><stop offset="0.289" stop-color="#dc0806"/><stop offset="0.325" stop-color="#e87818"/><stop offset="0.375" stop-color="#c8c828"/><stop offset="0.467" stop-color="#48c440"/><stop offset="0.566" stop-color="#20bcb0"/><stop offset="0.630" stop-color="#18a8e0"/><stop offset="0.694" stop-color="#1e3ae0"/><stop offset="0.772" stop-color="#2418d2"/><stop offset="1.000" stop-color="#3812bc"/></linearGradient>
<g clip-path="url(#c8)"><g filter="url(#sp)"><g filter="url(#w8)" shape-rendering="crispEdges"><rect x="571.20" y="44.8" width="11.64" height="51.3" fill="url(#g8_0)"/><rect x="581.84" y="44.8" width="3.64" height="51.3" fill="url(#g8_1)"/><rect x="584.48" y="44.8" width="3.64" height="51.3" fill="url(#g8_2)"/><rect x="587.12" y="44.8" width="3.64" height="51.3" fill="url(#g8_3)"/><rect x="589.76" y="44.8" width="3.64" height="51.3" fill="url(#g8_4)"/><rect x="592.40" y="44.8" width="3.64" height="51.3" fill="url(#g8_5)"/><rect x="595.04" y="44.8" width="3.64" height="51.3" fill="url(#g8_6)"/><rect x="597.68" y="44.8" width="3.64" height="51.3" fill="url(#g8_7)"/><rect x="600.32" y="44.8" width="3.64" height="51.3" fill="url(#g8_8)"/><rect x="602.96" y="44.8" width="3.64" height="51.3" fill="url(#g8_9)"/><rect x="605.60" y="44.8" width="3.64" height="51.3" fill="url(#g8_10)"/><rect x="608.24" y="44.8" width="3.64" height="51.3" fill="url(#g8_11)"/><rect x="610.88" y="44.8" width="3.64" height="51.3" fill="url(#g8_12)"/><rect x="613.52" y="44.8" width="3.64" height="51.3" fill="url(#g8_13)"/><rect x="616.16" y="44.8" width="10.64" height="51.3" fill="url(#g8_14)"/></g></g></g>
<clipPath id="c9"><polygon points="630.0,34.2 671.2,34.2 670.8,36.5 671.0,39.3 671.0,41.4 670.4,43.1 670.7,44.8 670.4,46.9 671.1,48.5 671.2,50.7 670.5,52.7 670.7,54.3 671.1,56.7 671.2,59.4 671.1,62.2 670.4,65.0 671.2,66.9 671.1,68.5 671.2,72.7 669.7,72.5 667.9,70.3 666.5,71.6 664.9,70.3 663.7,72.7 662.9,70.2 661.1,71.5 659.4,71.1 657.9,70.3 656.1,70.2 655.3,71.4 653.4,71.9 652.4,70.6 650.9,71.7 648.9,71.6 647.1,71.5 645.6,72.2 643.6,71.1 642.1,71.6 640.2,70.8 639.2,71.5 637.4,71.7 635.5,70.5 634.0,70.7 633.1,71.3 631.8,71.7 630.9,71.8 630.0,71.4 630.0,69.9 630.1,68.0 630.7,66.3 630.8,64.1 630.8,61.6 630.8,59.0 630.5,57.1 630.8,55.3 630.6,53.6 630.6,51.7 630.7,49.8 630.7,47.2 630.2,44.3 630.6,41.8 630.5,39.3 630.5,36.8"/></clipPath>
<filter id="w9" x="622.0" y="26.5" width="57.2" height="53.4" filterUnits="userSpaceOnUse" color-interpolation-filters="sRGB"><feTurbulence type="fractalNoise" baseFrequency="0.12 0.25" numOctaves="3" seed="28" result="t"/><feDisplacementMap in="SourceGraphic" in2="t" scale="8" xChannelSelector="B" yChannelSelector="G"/></filter>
<linearGradient id="g9_0" gradientUnits="userSpaceOnUse" x1="0" y1="34.5" x2="0" y2="71.9"><stop offset="0.000" stop-color="#d80606"/><stop offset="0.328" stop-color="#dc0806"/><stop offset="0.362" stop-color="#e87818"/><stop offset="0.410" stop-color="#c8c828"/><stop offset="0.499" stop-color="#48c440"/><stop offset="0.594" stop-color="#20bcb0"/><stop offset="0.655" stop-color="#18a8e0"/><stop offset="0.715" stop-color="#1e3ae0"/><stop offset="0.789" stop-color="#2418d2"/><stop offset="1.000" stop-color="#3812bc"/></linearGradient>
<linearGradient id="g9_1" gradientUnits="userSpaceOnUse" x1="0" y1="34.5" x2="0" y2="71.9"><stop offset="0.000" stop-color="#d80606"/><stop offset="0.343" stop-color="#dc0806"/><stop offset="0.376" stop-color="#e87818"/><stop offset="0.422" stop-color="#c8c828"/><stop offset="0.508" stop-color="#48c440"/><stop offset="0.601" stop-color="#20bcb0"/><stop offset="0.660" stop-color="#18a8e0"/><stop offset="0.719" stop-color="#1e3ae0"/><stop offset="0.791" stop-color="#2418d2"/><stop offset="1.000" stop-color="#3812bc"/></linearGradient>
<linearGradient id="g9_2" gradientUnits="userSpaceOnUse" x1="0" y1="34.5" x2="0" y2="71.9"><stop offset="0.000" stop-color="#d80606"/><stop offset="0.357" stop-color="#dc0806"/><stop offset="0.390" stop-color="#e87818"/><stop offset="0.435" stop-color="#c8c828"/><stop offset="0.518" stop-color="#48c440"/><stop offset="0.608" stop-color="#20bcb0"/><stop offset="0.666" stop-color="#18a8e0"/><stop offset="0.724" stop-color="#1e3ae0"/><stop offset="0.794" stop-color="#2418d2"/><stop offset="1.000" stop-color="#3812bc"/></linearGradient>
<linearGradient id="g9_3" gradientUnits="userSpaceOnUse" x1="0" y1="34.5" x2="0" y2="71.9"><stop offset="0.000" stop-color="#d80606"/><stop offset="0.372" stop-color="#dc0806"/><stop offset="0.403" stop-color="#e87818"/><stop offset="0.447" stop-color="#c8c828"/><stop offset="0.528" stop-color="#48c440"/><stop offset="0.615" stop-color="#20bcb0"/><stop offset="0.671" stop-color="#18a8e0"/><stop offset="0.728" stop-color="#1e3ae0"/><stop offset="0.797" stop-color="#2418d2"/><stop offset="1.000" stop-color="#3812bc"/></linearGradient>
<linearGradient id="g9_4" gradientUnits="userSpaceOnUse" x1="0" y1="34.5" x2="0" y2="71.9"><stop offset="0.000" stop-color="#d80606"/><stop offset="0.388" stop-color="#dc0806"/><stop offset="0.417" stop-color="#e87818"/><stop offset="0.459" stop-color="#c8c828"/><stop offset="0.537" stop-color="#48c440"/><stop offset="0.622" stop-color="#20bcb0"/><stop offset="0.677" stop-color="#18a8e0"/><stop offset="0.732" stop-color="#1e3ae0"/><stop offset="0.800" stop-color="#2418d2"/><stop offset="1.000" stop-color="#3812bc"/></linearGradient>
<linearGradient id="g9_5" gradientUnits="userSpaceOnUse" x1="0" y1="34.5" x2="0" y2="71.9"><stop offset="0.000" stop-color="#d80606"/><stop offset="0.402" stop-color="#dc0806"/><stop offset="0.431" stop-color="#e87818"/><stop offset="0.471" stop-color="#c8c828"/><stop offset="0.547" stop-color="#48c440"/><stop offset="0.629" stop-color="#20bcb0"/><stop offset="0.682" stop-color="#18a8e0"/><stop offset="0.736" stop-color="#1e3ae0"/><stop offset="0.803" stop-color="#2418d2"/><stop offset="1.000" stop-color="#3812bc"/></linearGradient>
<linearGradient id="g9_6" gradientUnits="userSpaceOnUse" x1="0" y1="34.5" x2="0" y2="71.9"><stop offset="0.000" stop-color="#d80606"/><stop offset="0.418" stop-color="#dc0806"/><stop offset="0.445" stop-color="#e87818"/><stop offset="0.484" stop-color="#c8c828"/><stop offset="0.556" stop-color="#48c440"/><stop offset="0.636" stop-color="#20bcb0"/><stop offset="0.688" stop-color="#18a8e0"/><stop offset="0.740" stop-color="#1e3ae0"/><stop offset="0.806" stop-color="#2418d2"/><stop offset="1.000" stop-color="#3812bc"/></linearGradient>
<linearGradient id="g9_7" gradientUnits="userSpaceOnUse" x1="0" y1="34.5" x2="0" y2="71.9"><stop offset="0.000" stop-color="#d80606"/><stop offset="0.432" stop-color="#dc0806"/><stop offset="0.459" stop-color="#e87818"/><stop offset="0.496" stop-color="#c8c828"/><stop offset="0.566" stop-color="#48c440"/><stop offset="0.643" stop-color="#20bcb0"/><stop offset="0.693" stop-color="#18a8e0"/><stop offset="0.745" stop-color="#1e3ae0"/><stop offset="0.808" stop-color="#2418d2"/><stop offset="1.000" stop-color="#3812bc"/></linearGradient>
<linearGradient id="g9_8" gradientUnits="userSpaceOnUse" x1="0" y1="34.5" x2="0" y2="71.9"><stop offset="0.000" stop-color="#d80606"/><stop offset="0.420" stop-color="#dc0806"/><stop offset="0.447" stop-color="#e87818"/><stop offset="0.486" stop-color="#c8c828"/><stop offset="0.558" stop-color="#48c440"/><stop offset="0.637" stop-color="#20bcb0"/><stop offset="0.689" stop-color="#18a8e0"/><stop offset="0.741" stop-color="#1e3ae0"/><stop offset="0.806" stop-color="#2418d2"/><stop offset="1.000" stop-color="#3812bc"/></linearGradient>
<linearGradient id="g9_9" gradientUnits="userSpaceOnUse" x1="0" y1="34.5" x2="0" y2="71.9"><stop offset="0.000" stop-color="#d80606"/><stop offset="0.380" stop-color="#dc0806"/><stop offset="0.410" stop-color="#e87818"/><stop offset="0.453" stop-color="#c8c828"/><stop offset="0.532" stop-color="#48c440"/><stop offset="0.618" stop-color="#20bcb0"/><stop offset="0.674" stop-color="#18a8e0"/><stop offset="0.730" stop-color="#1e3ae0"/><stop offset="0.798" stop-color="#2418d2"/><stop offset="1.000" stop-color="#3812bc"/></linearGradient>
<linearGradient id="g9_10" gradientUnits="userSpaceOnUse" x1="0" y1="34.5" x2="0" y2="71.9"><stop offset="0.000" stop-color="#d80606"/><stop offset="0.340" stop-color="#dc0806"/><stop offset="0.373" stop-color="#e87818"/><stop offset="0.420" stop-color="#c8c828"/><stop offset="0.507" stop-color="#48c440"/><stop offset="0.600" stop-color="#20bcb0"/><stop offset="0.659" stop-color="#18a8e0"/><stop offset="0.719" stop-color="#1e3ae0"/><stop offset="0.791" stop-color="#2418d2"/><stop offset="1.000" stop-color="#3812bc"/></linearGradient>
<linearGradient id="g9_11" gradientUnits="userSpaceOnUse" x1="0" y1="34.5" x2="0" y2="71.9"><stop offset="0.000" stop-color="#d80606"/><stop offset="0.300" stop-color="#dc0806"/><stop offset="0.337" stop-color="#e87818"/><stop offset="0.388" stop-color="#c8c828"/><stop offset="0.481" stop-color="#48c440"/><stop offset="0.581" stop-color="#20bcb0"/><stop offset="0.644" stop-color="#18a8e0"/><stop offset="0.707" stop-color="#1e3ae0"/><stop offset="0.783" stop-color="#2418d2"/><stop offset="1.000" stop-color="#3812bc"/></linearGradient>
<linearGradient id="g9_12" gradientUnits="userSpaceOnUse" x1="0" y1="34.5" x2="0" y2="71.9"><stop offset="0.000" stop-color="#d80606"/><stop offset="0.290" stop-color="#dc0806"/><stop offset="0.327" stop-color="#e87818"/><stop offset="0.379" stop-color="#c8c828"/><stop offset="0.475" stop-color="#48c440"/><stop offset="0.576" stop-color="#20bcb0"/><stop offset="0.641" stop-color="#18a8e0"/><stop offset="0.704" stop-color="#1e3ae0"/><stop offset="0.781" stop-color="#2418d2"/><stop offset="1.000" stop-color="#3812bc"/></linearGradient>
<linearGradient id="g9_13" gradientUnits="userSpaceOnUse" x1="0" y1="34.5" x2="0" y2="71.9"><stop offset="0.000" stop-color="#d80606"/><stop offset="0.310" stop-color="#dc0806"/><stop offset="0.346" stop-color="#e87818"/><stop offset="0.396" stop-color="#c8c828"/><stop offset="0.488" stop-color="#48c440"/><stop offset="0.586" stop-color="#20bcb0"/><stop offset="0.648" stop-color="#18a8e0"/><stop offset="0.710" stop-color="#1e3ae0"/><stop offset="0.785" stop-color="#2418d2"/><stop offset="1.000" stop-color="#3812bc"/></linearGradient>
<linearGradient id="g9_14" gradientUnits="userSpaceOnUse" x1="0" y1="34.5" x2="0" y2="71.9"><stop offset="0.000" stop-color="#d80606"/><stop offset="0.330" stop-color="#dc0806"/><stop offset="0.364" stop-color="#e87818"/><stop offset="0.412" stop-color="#c8c828"/><stop offset="0.500" stop-color="#48c440"/><stop offset="0.595" stop-color="#20bcb0"/><stop offset="0.655" stop-color="#18a8e0"/><stop offset="0.716" stop-color="#1e3ae0"/><stop offset="0.789" stop-color="#2418d2"/><stop offset="1.000" stop-color="#3812bc"/></linearGradient>
<linearGradient id="g9_15" gradientUnits="userSpaceOnUse" x1="0" y1="34.5" x2="0" y2="71.9"><stop offset="0.000" stop-color="#d80606"/><stop offset="0.350" stop-color="#dc0806"/><stop offset="0.383" stop-color="#e87818"/><stop offset="0.428" stop-color="#c8c828"/><stop offset="0.513" stop-color="#48c440"/><stop offset="0.604" stop-color="#20bcb0"/><stop offset="0.663" stop-color="#18a8e0"/><stop offset="0.721" stop-color="#1e3ae0"/><stop offset="0.793" stop-color="#2418d2"/><stop offset="1.000" stop-color="#3812bc"/></linearGradient>
<g clip-path="url(#c9)"><g filter="url(#sp)"><g filter="url(#w9)" shape-rendering="crispEdges"><rect x="622.00" y="26.5" width="11.58" height="53.4" fill="url(#g9_0)"/><rect x="632.58" y="26.5" width="3.57" height="53.4" fill="url(#g9_1)"/><rect x="635.15" y="26.5" width="3.58" height="53.4" fill="url(#g9_2)"/><rect x="637.73" y="26.5" width="3.57" height="53.4" fill="url(#g9_3)"/><rect x="640.30" y="26.5" width="3.58" height="53.4" fill="url(#g9_4)"/><rect x="642.88" y="26.5" width="3.58" height="53.4" fill="url(#g9_5)"/><rect x="645.45" y="26.5" width="3.57" height="53.4" fill="url(#g9_6)"/><rect x="648.02" y="26.5" width="3.58" height="53.4" fill="url(#g9_7)"/><rect x="650.60" y="26.5" width="3.57" height="53.4" fill="url(#g9_8)"/><rect x="653.17" y="26.5" width="3.58" height="53.4" fill="url(#g9_9)"/><rect x="655.75" y="26.5" width="3.58" height="53.4" fill="url(#g9_10)"/><rect x="658.33" y="26.5" width="3.57" height="53.4" fill="url(#g9_11)"/><rect x="660.90" y="26.5" width="3.58" height="53.4" fill="url(#g9_12)"/><rect x="663.48" y="26.5" width="3.57" height="53.4" fill="url(#g9_13)"/><rect x="666.05" y="26.5" width="3.58" height="53.4" fill="url(#g9_14)"/><rect x="668.62" y="26.5" width="10.58" height="53.4" fill="url(#g9_15)"/></g></g></g>
<path d="M53.7,8.25H326.3V227.4H53.7Z" fill="none" stroke="#000" stroke-width="1.5" stroke-linejoin="miter"/>
<path d="M49.30,227.40H53.7M49.30,183.57H53.7M49.30,139.74H53.7M49.30,95.91H53.7M49.30,52.08H53.7M49.30,8.25H53.7M51.40,205.49H53.7M51.40,161.66H53.7M51.40,117.83H53.7M51.40,74.00H53.7M51.40,30.16H53.7M80.96,227.4V231.80M135.48,227.4V231.80M190.00,227.4V231.80M244.52,227.4V231.80M299.04,227.4V231.80M53.70,227.4V229.70M108.22,227.4V229.70M162.74,227.4V229.70M217.26,227.4V229.70M271.78,227.4V229.70M326.30,227.4V229.70" fill="none" stroke="#000" stroke-width="1.5"/>
<text x="46.30" y="232.20" text-anchor="end" class="t">0</text>
<text x="46.30" y="188.37" text-anchor="end" class="t">5</text>
<text x="46.30" y="144.54" text-anchor="end" class="t">10</text>
<text x="46.30" y="100.71" text-anchor="end" class="t">15</text>
<text x="46.30" y="56.88" text-anchor="end" class="t">20</text>
<text x="46.30" y="13.05" text-anchor="end" class="t">25</text>
<text x="80.96" y="245.6" text-anchor="middle" class="t">1</text>
<text x="135.48" y="245.6" text-anchor="middle" class="t">2</text>
<text x="190.00" y="245.6" text-anchor="middle" class="t">3</text>
<text x="244.52" y="245.6" text-anchor="middle" class="t">4</text>
<text x="299.04" y="245.6" text-anchor="middle" class="t">5</text>
<polyline points="80.96,218.63 135.48,209.87 190.00,196.72 244.52,183.57 299.04,183.57" fill="none" stroke="#62c862" stroke-width="1.15"/>
<path d="M80.96,214.25V223.02M78.56,214.25h4.8M78.56,223.02h4.8M135.48,201.10V218.63M133.08,201.10h4.8M133.08,218.63h4.8M190.00,192.34V201.10M187.60,192.34h4.8M187.60,201.10h4.8M244.52,174.80V192.34M242.12,174.80h4.8M242.12,192.34h4.8M299.04,179.19V187.95M296.64,179.19h4.8M296.64,187.95h4.8" fill="none" stroke="#62c862" stroke-width="1.15"/>
<polyline points="80.96,174.80 135.48,157.27 190.00,139.74 244.52,130.97 299.04,122.21" fill="none" stroke="#d95858" stroke-width="1.15"/>
<path d="M80.96,161.66V187.95M78.56,161.66h4.8M78.56,187.95h4.8M135.48,148.51V166.04M133.08,148.51h4.8M133.08,166.04h4.8M190.00,133.17V146.31M187.60,133.17h4.8M187.60,146.31h4.8M244.52,126.59V135.36M242.12,126.59h4.8M242.12,135.36h4.8M299.04,117.83V126.59M296.64,117.83h4.8M296.64,126.59h4.8" fill="none" stroke="#d95858" stroke-width="1.15"/>
<polyline points="80.96,139.74 135.48,122.21 190.00,104.68 244.52,100.29 299.04,87.14" fill="none" stroke="#3a8cd2" stroke-width="1.15"/>
<path d="M80.96,135.36V144.12M78.56,135.36h4.8M78.56,144.12h4.8M135.48,113.44V130.97M133.08,113.44h4.8M133.08,130.97h4.8M190.00,97.66V111.69M187.60,97.66h4.8M187.60,111.69h4.8M244.52,91.53V109.06M242.12,91.53h4.8M242.12,109.06h4.8M299.04,82.76V91.53M296.64,82.76h4.8M296.64,91.53h4.8" fill="none" stroke="#3a8cd2" stroke-width="1.15"/>
<line x1="58.90" y1="22.45" x2="90.10" y2="22.45" stroke="#62c862" stroke-width="1.15"/>
<text x="96.60" y="26.85" class="t">0 Å</text>
<line x1="58.90" y1="39.25" x2="90.10" y2="39.25" stroke="#d95858" stroke-width="1.15"/>
<text x="96.60" y="43.65" class="t">4 Å</text>
<line x1="58.90" y1="55.50" x2="90.10" y2="55.50" stroke="#3a8cd2" stroke-width="1.15"/>
<text x="96.60" y="59.90" class="t">6 Å</text>
<path d="M411.2,8.25H683.9V227.4H411.2Z" fill="none" stroke="#000" stroke-width="1.5" stroke-linejoin="miter"/>
<path d="M406.80,227.40H411.2M406.80,183.57H411.2M406.80,139.74H411.2M406.80,95.91H411.2M406.80,52.08H411.2M406.80,8.25H411.2M408.90,205.49H411.2M408.90,161.66H411.2M408.90,117.83H411.2M408.90,74.00H411.2M408.90,30.16H411.2M438.47,227.4V231.80M493.01,227.4V231.80M547.55,227.4V231.80M602.09,227.4V231.80M656.63,227.4V231.80M411.20,227.4V229.70M465.74,227.4V229.70M520.28,227.4V229.70M574.82,227.4V229.70M629.36,227.4V229.70M683.90,227.4V229.70" fill="none" stroke="#000" stroke-width="1.5"/>
<text x="403.80" y="232.20" text-anchor="end" class="t">0</text>
<text x="403.80" y="188.37" text-anchor="end" class="t">5</text>
<text x="403.80" y="144.54" text-anchor="end" class="t">10</text>
<text x="403.80" y="100.71" text-anchor="end" class="t">15</text>
<text x="403.80" y="56.88" text-anchor="end" class="t">20</text>
<text x="403.80" y="13.05" text-anchor="end" class="t">25</text>
<text x="438.47" y="245.6" text-anchor="middle" class="t">1</text>
<text x="493.01" y="245.6" text-anchor="middle" class="t">1.5</text>
<text x="547.55" y="245.6" text-anchor="middle" class="t">2</text>
<text x="602.09" y="245.6" text-anchor="middle" class="t">2.5</text>
<text x="656.63" y="245.6" text-anchor="middle" class="t">3</text>
<polyline points="438.47,218.63 493.01,201.10 547.55,201.10 602.09,196.72 656.63,192.34" fill="none" stroke="#62c862" stroke-width="1.15"/>
<path d="M438.47,214.25V223.02M436.07,214.25h4.8M436.07,223.02h4.8M493.01,194.09V208.11M490.61,194.09h4.8M490.61,208.11h4.8M547.55,195.84V206.36M545.15,195.84h4.8M545.15,206.36h4.8M602.09,193.21V200.23M599.69,193.21h4.8M599.69,200.23h4.8M656.63,187.08V197.60M654.23,187.08h4.8M654.23,197.60h4.8" fill="none" stroke="#62c862" stroke-width="1.15"/>
<polyline points="438.47,174.80 493.01,166.04 547.55,161.66 602.09,148.51 656.63,139.74" fill="none" stroke="#d95858" stroke-width="1.15"/>
<path d="M438.47,161.66V187.95M436.07,161.66h4.8M436.07,187.95h4.8M493.01,157.27V174.80M490.61,157.27h4.8M490.61,174.80h4.8M547.55,157.27V166.04M545.15,157.27h4.8M545.15,166.04h4.8M602.09,145.00V152.01M599.69,145.00h4.8M599.69,152.01h4.8M656.63,135.36V144.12M654.23,135.36h4.8M654.23,144.12h4.8" fill="none" stroke="#d95858" stroke-width="1.15"/>
<polyline points="438.47,139.74 493.01,130.97 547.55,113.44 602.09,104.68 656.63,78.38" fill="none" stroke="#3a8cd2" stroke-width="1.15"/>
<path d="M438.47,135.36V144.12M436.07,135.36h4.8M436.07,144.12h4.8M493.01,125.71V136.23M490.61,125.71h4.8M490.61,136.23h4.8M547.55,109.06V117.83M545.15,109.06h4.8M545.15,117.83h4.8M602.09,98.10V111.25M599.69,98.10h4.8M599.69,111.25h4.8M656.63,75.49V81.27M654.23,75.49h4.8M654.23,81.27h4.8" fill="none" stroke="#3a8cd2" stroke-width="1.15"/>
<line x1="415.70" y1="23.10" x2="446.90" y2="23.10" stroke="#62c862" stroke-width="1.15"/>
<text x="453.20" y="27.50" class="t">0 Å</text>
<line x1="415.70" y1="39.60" x2="446.90" y2="39.60" stroke="#d95858" stroke-width="1.15"/>
<text x="453.20" y="44.00" class="t">4 Å</text>
<line x1="415.70" y1="56.20" x2="446.90" y2="56.20" stroke="#3a8cd2" stroke-width="1.15"/>
<text x="453.20" y="60.60" class="t">6 Å</text>
<text x="189.50" y="269.7" text-anchor="middle" class="a">Normal load (GPa)</text>
<text x="547.85" y="269.7" text-anchor="middle" class="a">Velocity (Å/ps)</text>
<text transform="translate(25.8,117.9) rotate(-90)" text-anchor="middle" class="a" style="font-size:14.4px">Thickness (Å)</text>
<text transform="translate(384.3,117.9) rotate(-90)" text-anchor="middle" class="a" style="font-size:14.4px">Thickness (Å)</text>
<text class="p"><tspan x="-0.2" y="16.8" font-size="23.5">(</tspan><tspan x="6.9" y="15.5">a</tspan><tspan x="17.2" y="16.8" font-size="23.5">)</tspan></text>
<text class="p"><tspan x="356.2" y="16.8" font-size="23.5">(</tspan><tspan x="364.3" y="16.1">b</tspan><tspan x="375.6" y="16.8" font-size="23.5">)</tspan></text>
</svg>
</body></html>
